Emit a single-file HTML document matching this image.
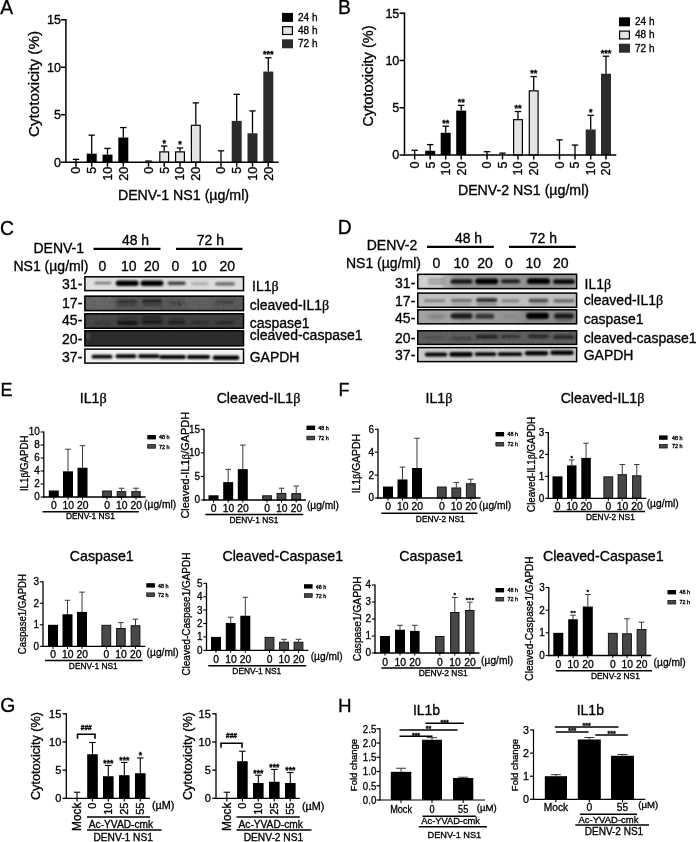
<!DOCTYPE html>
<html><head><meta charset="utf-8"><title>Figure</title>
<style>
html,body{margin:0;padding:0;background:#fff;}
body{width:696px;height:842px;overflow:hidden;}
text{stroke:#000;stroke-width:0.32px;}
svg{display:block;filter:grayscale(1);font-family:"Liberation Sans",sans-serif;}
</style></head><body>
<svg width="696" height="842" viewBox="0 0 696 842">
<rect x="0" y="0" width="696" height="842" fill="#fff"/>
<text x="0.2" y="13.8" font-size="19.3" fill="#000">A</text>
<line x1="76" y1="159.35199999999998" x2="76" y2="162.2" stroke="#000" stroke-width="1.3" stroke-linecap="butt"/>
<line x1="72.8" y1="159.35199999999998" x2="79.2" y2="159.35199999999998" stroke="#000" stroke-width="1.3" stroke-linecap="butt"/>
<line x1="91.7" y1="135.144" x2="91.7" y2="153.65599999999998" stroke="#000" stroke-width="1.3" stroke-linecap="butt"/>
<line x1="88.5" y1="135.144" x2="94.9" y2="135.144" stroke="#000" stroke-width="1.3" stroke-linecap="butt"/>
<rect x="86.7" y="153.65599999999998" width="10.0" height="8.544000000000011" fill="#000"/>
<line x1="107.5" y1="148.43466666666666" x2="107.5" y2="154.60533333333333" stroke="#000" stroke-width="1.3" stroke-linecap="butt"/>
<line x1="104.3" y1="148.43466666666666" x2="110.7" y2="148.43466666666666" stroke="#000" stroke-width="1.3" stroke-linecap="butt"/>
<rect x="102.5" y="154.60533333333333" width="10.0" height="7.5946666666666545" fill="#000"/>
<line x1="123.3" y1="127.54933333333332" x2="123.3" y2="137.5173333333333" stroke="#000" stroke-width="1.3" stroke-linecap="butt"/>
<line x1="120.1" y1="127.54933333333332" x2="126.5" y2="127.54933333333332" stroke="#000" stroke-width="1.3" stroke-linecap="butt"/>
<rect x="118.3" y="137.5173333333333" width="10.0" height="24.682666666666677" fill="#000"/>
<line x1="148.5" y1="161.0608" x2="148.5" y2="162.2" stroke="#000" stroke-width="1.3" stroke-linecap="butt"/>
<line x1="145.3" y1="161.0608" x2="151.7" y2="161.0608" stroke="#000" stroke-width="1.3" stroke-linecap="butt"/>
<line x1="164.2" y1="146.06133333333332" x2="164.2" y2="151.28266666666667" stroke="#000" stroke-width="1.3" stroke-linecap="butt"/>
<line x1="161.0" y1="146.06133333333332" x2="167.39999999999998" y2="146.06133333333332" stroke="#000" stroke-width="1.3" stroke-linecap="butt"/>
<rect x="159.79999999999998" y="151.88266666666667" width="8.8" height="10.317333333333318" fill="#e4e4e4" stroke="#000" stroke-width="1.2"/>
<text x="164.2" y="145.56133333333332" font-size="9" text-anchor="middle" font-weight="bold" fill="#000">*</text>
<line x1="180" y1="147.95999999999998" x2="180" y2="151.28266666666667" stroke="#000" stroke-width="1.3" stroke-linecap="butt"/>
<line x1="176.8" y1="147.95999999999998" x2="183.2" y2="147.95999999999998" stroke="#000" stroke-width="1.3" stroke-linecap="butt"/>
<rect x="175.6" y="151.88266666666667" width="8.8" height="10.317333333333318" fill="#e4e4e4" stroke="#000" stroke-width="1.2"/>
<text x="180" y="147.45999999999998" font-size="9" text-anchor="middle" font-weight="bold" fill="#000">*</text>
<line x1="195.8" y1="102.86666666666666" x2="195.8" y2="124.70133333333332" stroke="#000" stroke-width="1.3" stroke-linecap="butt"/>
<line x1="192.60000000000002" y1="102.86666666666666" x2="199.0" y2="102.86666666666666" stroke="#000" stroke-width="1.3" stroke-linecap="butt"/>
<rect x="191.4" y="125.30133333333332" width="8.8" height="36.898666666666664" fill="#e4e4e4" stroke="#000" stroke-width="1.2"/>
<line x1="221" y1="150.808" x2="221" y2="162.2" stroke="#000" stroke-width="1.3" stroke-linecap="butt"/>
<line x1="217.8" y1="150.808" x2="224.2" y2="150.808" stroke="#000" stroke-width="1.3" stroke-linecap="butt"/>
<line x1="236.7" y1="94.32266666666666" x2="236.7" y2="120.904" stroke="#000" stroke-width="1.3" stroke-linecap="butt"/>
<line x1="233.5" y1="94.32266666666666" x2="239.89999999999998" y2="94.32266666666666" stroke="#000" stroke-width="1.3" stroke-linecap="butt"/>
<rect x="231.7" y="120.904" width="10.0" height="41.29599999999999" fill="#2b2b2b"/>
<line x1="252.5" y1="110.93599999999999" x2="252.5" y2="133.24533333333332" stroke="#000" stroke-width="1.3" stroke-linecap="butt"/>
<line x1="249.3" y1="110.93599999999999" x2="255.7" y2="110.93599999999999" stroke="#000" stroke-width="1.3" stroke-linecap="butt"/>
<rect x="247.5" y="133.24533333333332" width="10.0" height="28.954666666666668" fill="#2b2b2b"/>
<line x1="268.3" y1="57.77333333333334" x2="268.3" y2="71.53866666666666" stroke="#000" stroke-width="1.3" stroke-linecap="butt"/>
<line x1="265.1" y1="57.77333333333334" x2="271.5" y2="57.77333333333334" stroke="#000" stroke-width="1.3" stroke-linecap="butt"/>
<rect x="263.3" y="71.53866666666666" width="10.0" height="90.66133333333333" fill="#2b2b2b"/>
<text x="268.3" y="57.27333333333334" font-size="9" text-anchor="middle" font-weight="bold" fill="#000">***</text>
<line x1="65.9" y1="19.1" x2="65.9" y2="162.89999999999998" stroke="#000" stroke-width="1.5" stroke-linecap="butt"/>
<line x1="65.2" y1="162.2" x2="278.6" y2="162.2" stroke="#000" stroke-width="1.5" stroke-linecap="butt"/>
<line x1="60.900000000000006" y1="162.2" x2="65.9" y2="162.2" stroke="#000" stroke-width="1.5" stroke-linecap="butt"/>
<text x="61" y="166.6" font-size="12.5" text-anchor="end" fill="#000">0</text>
<line x1="60.900000000000006" y1="114.73333333333332" x2="65.9" y2="114.73333333333332" stroke="#000" stroke-width="1.5" stroke-linecap="butt"/>
<text x="61" y="119.13333333333333" font-size="12.5" text-anchor="end" fill="#000">5</text>
<line x1="60.900000000000006" y1="67.26666666666667" x2="65.9" y2="67.26666666666667" stroke="#000" stroke-width="1.5" stroke-linecap="butt"/>
<text x="61" y="71.66666666666667" font-size="12.5" text-anchor="end" fill="#000">10</text>
<line x1="60.900000000000006" y1="19.80000000000001" x2="65.9" y2="19.80000000000001" stroke="#000" stroke-width="1.5" stroke-linecap="butt"/>
<text x="61" y="24.20000000000001" font-size="12.5" text-anchor="end" fill="#000">15</text>
<line x1="76" y1="162.2" x2="76" y2="166.7" stroke="#000" stroke-width="1.5" stroke-linecap="butt"/>
<text x="80.5" y="166.79999999999998" font-size="12.5" text-anchor="end" transform="rotate(-90 80.5 166.79999999999998)" fill="#000">0</text>
<line x1="91.7" y1="162.2" x2="91.7" y2="166.7" stroke="#000" stroke-width="1.5" stroke-linecap="butt"/>
<text x="96.2" y="166.79999999999998" font-size="12.5" text-anchor="end" transform="rotate(-90 96.2 166.79999999999998)" fill="#000">5</text>
<line x1="107.5" y1="162.2" x2="107.5" y2="166.7" stroke="#000" stroke-width="1.5" stroke-linecap="butt"/>
<text x="112.0" y="166.79999999999998" font-size="12.5" text-anchor="end" transform="rotate(-90 112.0 166.79999999999998)" fill="#000">10</text>
<line x1="123.3" y1="162.2" x2="123.3" y2="166.7" stroke="#000" stroke-width="1.5" stroke-linecap="butt"/>
<text x="127.8" y="166.79999999999998" font-size="12.5" text-anchor="end" transform="rotate(-90 127.8 166.79999999999998)" fill="#000">20</text>
<line x1="148.5" y1="162.2" x2="148.5" y2="166.7" stroke="#000" stroke-width="1.5" stroke-linecap="butt"/>
<text x="153.0" y="166.79999999999998" font-size="12.5" text-anchor="end" transform="rotate(-90 153.0 166.79999999999998)" fill="#000">0</text>
<line x1="164.2" y1="162.2" x2="164.2" y2="166.7" stroke="#000" stroke-width="1.5" stroke-linecap="butt"/>
<text x="168.7" y="166.79999999999998" font-size="12.5" text-anchor="end" transform="rotate(-90 168.7 166.79999999999998)" fill="#000">5</text>
<line x1="180" y1="162.2" x2="180" y2="166.7" stroke="#000" stroke-width="1.5" stroke-linecap="butt"/>
<text x="184.5" y="166.79999999999998" font-size="12.5" text-anchor="end" transform="rotate(-90 184.5 166.79999999999998)" fill="#000">10</text>
<line x1="195.8" y1="162.2" x2="195.8" y2="166.7" stroke="#000" stroke-width="1.5" stroke-linecap="butt"/>
<text x="200.3" y="166.79999999999998" font-size="12.5" text-anchor="end" transform="rotate(-90 200.3 166.79999999999998)" fill="#000">20</text>
<line x1="221" y1="162.2" x2="221" y2="166.7" stroke="#000" stroke-width="1.5" stroke-linecap="butt"/>
<text x="225.5" y="166.79999999999998" font-size="12.5" text-anchor="end" transform="rotate(-90 225.5 166.79999999999998)" fill="#000">0</text>
<line x1="236.7" y1="162.2" x2="236.7" y2="166.7" stroke="#000" stroke-width="1.5" stroke-linecap="butt"/>
<text x="241.2" y="166.79999999999998" font-size="12.5" text-anchor="end" transform="rotate(-90 241.2 166.79999999999998)" fill="#000">5</text>
<line x1="252.5" y1="162.2" x2="252.5" y2="166.7" stroke="#000" stroke-width="1.5" stroke-linecap="butt"/>
<text x="257.0" y="166.79999999999998" font-size="12.5" text-anchor="end" transform="rotate(-90 257.0 166.79999999999998)" fill="#000">10</text>
<line x1="268.3" y1="162.2" x2="268.3" y2="166.7" stroke="#000" stroke-width="1.5" stroke-linecap="butt"/>
<text x="272.8" y="166.79999999999998" font-size="12.5" text-anchor="end" transform="rotate(-90 272.8 166.79999999999998)" fill="#000">20</text>
<text x="183.5" y="200" font-size="14.2" text-anchor="middle" fill="#000">DENV-1 NS1 (µg/ml)</text>
<text x="38.6" y="84" font-size="15.3" text-anchor="middle" transform="rotate(-90 38.6 84)" fill="#000">Cytotoxicity (%)</text>
<rect x="282" y="12.9" width="11" height="9" fill="#000"/>
<text x="298" y="20.8" font-size="10" fill="#000" stroke="#000" stroke-width="0.25">24 h</text>
<rect x="282.6" y="26.700000000000003" width="9.8" height="7.8" fill="#e4e4e4" stroke="#000" stroke-width="1.2"/>
<text x="298" y="34.0" font-size="10" fill="#000" stroke="#000" stroke-width="0.25">48 h</text>
<rect x="282" y="39.3" width="11" height="9" fill="#2b2b2b"/>
<text x="298" y="47.199999999999996" font-size="10" fill="#000" stroke="#000" stroke-width="0.25">72 h</text>
<text x="338.1" y="13.6" font-size="19.3" fill="#000">B</text>
<line x1="414.7" y1="150.27333333333334" x2="414.7" y2="155.0" stroke="#000" stroke-width="1.3" stroke-linecap="butt"/>
<line x1="411.5" y1="150.27333333333334" x2="417.9" y2="150.27333333333334" stroke="#000" stroke-width="1.3" stroke-linecap="butt"/>
<line x1="430.2" y1="144.60133333333334" x2="430.2" y2="150.746" stroke="#000" stroke-width="1.3" stroke-linecap="butt"/>
<line x1="427.0" y1="144.60133333333334" x2="433.4" y2="144.60133333333334" stroke="#000" stroke-width="1.3" stroke-linecap="butt"/>
<rect x="425.2" y="150.746" width="10.0" height="4.253999999999991" fill="#000"/>
<line x1="445.7" y1="126.16733333333333" x2="445.7" y2="132.78466666666665" stroke="#000" stroke-width="1.3" stroke-linecap="butt"/>
<line x1="442.5" y1="126.16733333333333" x2="448.9" y2="126.16733333333333" stroke="#000" stroke-width="1.3" stroke-linecap="butt"/>
<rect x="440.7" y="132.78466666666665" width="10.0" height="22.215333333333348" fill="#000"/>
<text x="445.7" y="125.66733333333333" font-size="9" text-anchor="middle" font-weight="bold" fill="#000">**</text>
<line x1="461.2" y1="105.36999999999999" x2="461.2" y2="110.56933333333333" stroke="#000" stroke-width="1.3" stroke-linecap="butt"/>
<line x1="458.0" y1="105.36999999999999" x2="464.4" y2="105.36999999999999" stroke="#000" stroke-width="1.3" stroke-linecap="butt"/>
<rect x="456.2" y="110.56933333333333" width="10.0" height="44.43066666666667" fill="#000"/>
<text x="461.2" y="104.86999999999999" font-size="9" text-anchor="middle" font-weight="bold" fill="#000">**</text>
<line x1="487" y1="151.69133333333335" x2="487" y2="155.0" stroke="#000" stroke-width="1.3" stroke-linecap="butt"/>
<line x1="483.8" y1="151.69133333333335" x2="490.2" y2="151.69133333333335" stroke="#000" stroke-width="1.3" stroke-linecap="butt"/>
<line x1="502.5" y1="153.10933333333332" x2="502.5" y2="155.0" stroke="#000" stroke-width="1.3" stroke-linecap="butt"/>
<line x1="499.3" y1="153.10933333333332" x2="505.7" y2="153.10933333333332" stroke="#000" stroke-width="1.3" stroke-linecap="butt"/>
<line x1="518" y1="111.51466666666667" x2="518" y2="119.07733333333333" stroke="#000" stroke-width="1.3" stroke-linecap="butt"/>
<line x1="514.8" y1="111.51466666666667" x2="521.2" y2="111.51466666666667" stroke="#000" stroke-width="1.3" stroke-linecap="butt"/>
<rect x="513.6" y="119.67733333333332" width="8.8" height="35.32266666666667" fill="#e4e4e4" stroke="#000" stroke-width="1.2"/>
<text x="518" y="111.01466666666667" font-size="9" text-anchor="middle" font-weight="bold" fill="#000">**</text>
<line x1="533.7" y1="76.53733333333331" x2="533.7" y2="90.24466666666666" stroke="#000" stroke-width="1.3" stroke-linecap="butt"/>
<line x1="530.5" y1="76.53733333333331" x2="536.9000000000001" y2="76.53733333333331" stroke="#000" stroke-width="1.3" stroke-linecap="butt"/>
<rect x="529.3000000000001" y="90.84466666666665" width="8.8" height="64.15533333333335" fill="#e4e4e4" stroke="#000" stroke-width="1.2"/>
<text x="533.7" y="76.03733333333331" font-size="9" text-anchor="middle" font-weight="bold" fill="#000">**</text>
<line x1="559.5" y1="139.87466666666666" x2="559.5" y2="155.0" stroke="#000" stroke-width="1.3" stroke-linecap="butt"/>
<line x1="556.3" y1="139.87466666666666" x2="562.7" y2="139.87466666666666" stroke="#000" stroke-width="1.3" stroke-linecap="butt"/>
<line x1="575" y1="145.074" x2="575" y2="155.0" stroke="#000" stroke-width="1.3" stroke-linecap="butt"/>
<line x1="571.8" y1="145.074" x2="578.2" y2="145.074" stroke="#000" stroke-width="1.3" stroke-linecap="butt"/>
<line x1="590.7" y1="115.29599999999999" x2="590.7" y2="129.476" stroke="#000" stroke-width="1.3" stroke-linecap="butt"/>
<line x1="587.5" y1="115.29599999999999" x2="593.9000000000001" y2="115.29599999999999" stroke="#000" stroke-width="1.3" stroke-linecap="butt"/>
<rect x="585.7" y="129.476" width="10.0" height="25.524" fill="#2b2b2b"/>
<text x="590.7" y="114.79599999999999" font-size="9" text-anchor="middle" font-weight="bold" fill="#000">*</text>
<line x1="606" y1="56.212666666666664" x2="606" y2="73.70133333333332" stroke="#000" stroke-width="1.3" stroke-linecap="butt"/>
<line x1="602.8" y1="56.212666666666664" x2="609.2" y2="56.212666666666664" stroke="#000" stroke-width="1.3" stroke-linecap="butt"/>
<rect x="601.0" y="73.70133333333332" width="10.0" height="81.29866666666668" fill="#2b2b2b"/>
<text x="606" y="55.712666666666664" font-size="9" text-anchor="middle" font-weight="bold" fill="#000">***</text>
<line x1="404.5" y1="12.5" x2="404.5" y2="155.7" stroke="#000" stroke-width="1.5" stroke-linecap="butt"/>
<line x1="403.8" y1="155.0" x2="616.3" y2="155.0" stroke="#000" stroke-width="1.5" stroke-linecap="butt"/>
<line x1="399.5" y1="155.0" x2="404.5" y2="155.0" stroke="#000" stroke-width="1.5" stroke-linecap="butt"/>
<text x="399.3" y="159.4" font-size="12.5" text-anchor="end" fill="#000">0</text>
<line x1="399.5" y1="107.73333333333332" x2="404.5" y2="107.73333333333332" stroke="#000" stroke-width="1.5" stroke-linecap="butt"/>
<text x="399.3" y="112.13333333333333" font-size="12.5" text-anchor="end" fill="#000">5</text>
<line x1="399.5" y1="60.466666666666654" x2="404.5" y2="60.466666666666654" stroke="#000" stroke-width="1.5" stroke-linecap="butt"/>
<text x="399.3" y="64.86666666666666" font-size="12.5" text-anchor="end" fill="#000">10</text>
<line x1="399.5" y1="13.199999999999989" x2="404.5" y2="13.199999999999989" stroke="#000" stroke-width="1.5" stroke-linecap="butt"/>
<text x="399.3" y="17.599999999999987" font-size="12.5" text-anchor="end" fill="#000">15</text>
<line x1="414.7" y1="155.0" x2="414.7" y2="159.5" stroke="#000" stroke-width="1.5" stroke-linecap="butt"/>
<text x="419.2" y="161.6" font-size="12.5" text-anchor="end" transform="rotate(-90 419.2 161.6)" fill="#000">0</text>
<line x1="430.2" y1="155.0" x2="430.2" y2="159.5" stroke="#000" stroke-width="1.5" stroke-linecap="butt"/>
<text x="434.7" y="161.6" font-size="12.5" text-anchor="end" transform="rotate(-90 434.7 161.6)" fill="#000">5</text>
<line x1="445.7" y1="155.0" x2="445.7" y2="159.5" stroke="#000" stroke-width="1.5" stroke-linecap="butt"/>
<text x="450.2" y="161.6" font-size="12.5" text-anchor="end" transform="rotate(-90 450.2 161.6)" fill="#000">10</text>
<line x1="461.2" y1="155.0" x2="461.2" y2="159.5" stroke="#000" stroke-width="1.5" stroke-linecap="butt"/>
<text x="465.7" y="161.6" font-size="12.5" text-anchor="end" transform="rotate(-90 465.7 161.6)" fill="#000">20</text>
<line x1="487" y1="155.0" x2="487" y2="159.5" stroke="#000" stroke-width="1.5" stroke-linecap="butt"/>
<text x="491.5" y="161.6" font-size="12.5" text-anchor="end" transform="rotate(-90 491.5 161.6)" fill="#000">0</text>
<line x1="502.5" y1="155.0" x2="502.5" y2="159.5" stroke="#000" stroke-width="1.5" stroke-linecap="butt"/>
<text x="507.0" y="161.6" font-size="12.5" text-anchor="end" transform="rotate(-90 507.0 161.6)" fill="#000">5</text>
<line x1="518" y1="155.0" x2="518" y2="159.5" stroke="#000" stroke-width="1.5" stroke-linecap="butt"/>
<text x="522.5" y="161.6" font-size="12.5" text-anchor="end" transform="rotate(-90 522.5 161.6)" fill="#000">10</text>
<line x1="533.7" y1="155.0" x2="533.7" y2="159.5" stroke="#000" stroke-width="1.5" stroke-linecap="butt"/>
<text x="538.2" y="161.6" font-size="12.5" text-anchor="end" transform="rotate(-90 538.2 161.6)" fill="#000">20</text>
<line x1="559.5" y1="155.0" x2="559.5" y2="159.5" stroke="#000" stroke-width="1.5" stroke-linecap="butt"/>
<text x="564.0" y="161.6" font-size="12.5" text-anchor="end" transform="rotate(-90 564.0 161.6)" fill="#000">0</text>
<line x1="575" y1="155.0" x2="575" y2="159.5" stroke="#000" stroke-width="1.5" stroke-linecap="butt"/>
<text x="579.5" y="161.6" font-size="12.5" text-anchor="end" transform="rotate(-90 579.5 161.6)" fill="#000">5</text>
<line x1="590.7" y1="155.0" x2="590.7" y2="159.5" stroke="#000" stroke-width="1.5" stroke-linecap="butt"/>
<text x="595.2" y="161.6" font-size="12.5" text-anchor="end" transform="rotate(-90 595.2 161.6)" fill="#000">10</text>
<line x1="606" y1="155.0" x2="606" y2="159.5" stroke="#000" stroke-width="1.5" stroke-linecap="butt"/>
<text x="610.5" y="161.6" font-size="12.5" text-anchor="end" transform="rotate(-90 610.5 161.6)" fill="#000">20</text>
<text x="523.5" y="195" font-size="14.2" text-anchor="middle" fill="#000">DENV-2 NS1 (µg/ml)</text>
<text x="373.2" y="76" font-size="14.55" text-anchor="middle" transform="rotate(-90 373.2 76)" fill="#000">Cytotoxicity (%)</text>
<rect x="619" y="17.3" width="11" height="9" fill="#000"/>
<text x="635" y="25.200000000000003" font-size="10" fill="#000" stroke="#000" stroke-width="0.25">24 h</text>
<rect x="619.6" y="31.1" width="9.8" height="7.8" fill="#e4e4e4" stroke="#000" stroke-width="1.2"/>
<text x="635" y="38.4" font-size="10" fill="#000" stroke="#000" stroke-width="0.25">48 h</text>
<rect x="619" y="43.7" width="11" height="9" fill="#2b2b2b"/>
<text x="635" y="51.6" font-size="10" fill="#000" stroke="#000" stroke-width="0.25">72 h</text>
<defs><filter id="bl" x="-20%" y="-100%" width="140%" height="300%"><feGaussianBlur stdDeviation="1.1 0.8"/></filter><filter id="bl2" x="-20%" y="-100%" width="140%" height="300%"><feGaussianBlur stdDeviation="2 1.4"/></filter><filter id="noise" x="0" y="0" width="100%" height="100%"><feTurbulence type="fractalNoise" baseFrequency="0.35 0.5" numOctaves="2" seed="3" result="n"/><feColorMatrix in="n" type="matrix" values="0 0 0 0 0  0 0 0 0 0  0 0 0 0 0  0.9 0 0 0 -0.35"/></filter></defs>
<text x="0.1" y="234.7" font-size="19.3" fill="#000">C</text>
<text x="33.5" y="252.5" font-size="14" fill="#000">DENV-1</text>
<text x="13.5" y="270.5" font-size="14" fill="#000">NS1 (µg/ml)</text>
<text x="135.5" y="245" font-size="14" text-anchor="middle" fill="#000">48 h</text>
<text x="210.3" y="245" font-size="14" text-anchor="middle" fill="#000">72 h</text>
<line x1="93.5" y1="248.8" x2="160.5" y2="248.8" stroke="#000" stroke-width="2.2" stroke-linecap="butt"/>
<line x1="176" y1="248.8" x2="242.5" y2="248.8" stroke="#000" stroke-width="2.2" stroke-linecap="butt"/>
<text x="102.5" y="270.5" font-size="14" text-anchor="middle" fill="#000">0</text>
<text x="128.7" y="270.5" font-size="14" text-anchor="middle" fill="#000">10</text>
<text x="151.7" y="270.5" font-size="14" text-anchor="middle" fill="#000">20</text>
<text x="175.5" y="270.5" font-size="14" text-anchor="middle" fill="#000">0</text>
<text x="199" y="270.5" font-size="14" text-anchor="middle" fill="#000">10</text>
<text x="227.3" y="270.5" font-size="14" text-anchor="middle" fill="#000">20</text>
<clipPath id="c1"><rect x="84.3" y="276.2" width="159.8" height="15"/></clipPath>
<g clip-path="url(#c1)">
<rect x="84.3" y="276.2" width="159.8" height="15" fill="#dfdfdf"/>
<rect x="150" y="276.2" width="60" height="15" fill="#d8d8d8" opacity="0.5" filter="url(#bl2)"/>
<rect x="94.50" y="281.80" width="17" height="2.4" rx="1.20" fill="#444" opacity="0.7" filter="url(#bl)"/>
<rect x="115.70" y="280.50" width="23" height="5.4" rx="2.70" fill="#000" opacity="1" filter="url(#bl)"/>
<rect x="140.50" y="280.50" width="23" height="5.4" rx="2.70" fill="#000" opacity="1" filter="url(#bl)"/>
<rect x="167.70" y="281.50" width="18" height="3.4" rx="1.70" fill="#222" opacity="0.85" filter="url(#bl)"/>
<rect x="191.20" y="282.50" width="17" height="2.2" rx="1.10" fill="#555" opacity="0.45" filter="url(#bl)"/>
<rect x="215.00" y="282.20" width="20" height="3.2" rx="1.60" fill="#333" opacity="0.7" filter="url(#bl)"/>
</g>
<rect x="84.89999999999999" y="276.8" width="158.60000000000002" height="13.8" fill="none" stroke="#000" stroke-width="1.5"/>
<clipPath id="c2"><rect x="84.3" y="295.6" width="159.8" height="15.6"/></clipPath>
<g clip-path="url(#c2)">
<rect x="84.3" y="295.6" width="159.8" height="15.6" fill="#5c5c5c"/>
<rect x="84" y="295.6" width="30" height="15.6" fill="#777" opacity="0.5" filter="url(#bl2)"/>
<rect x="186" y="295.6" width="26" height="15.6" fill="#6a6a6a" opacity="0.5" filter="url(#bl2)"/>
<rect x="117.20" y="300.00" width="20" height="3" rx="1.50" fill="#222" opacity="0.7" filter="url(#bl)"/>
<rect x="117.20" y="303.75" width="20" height="2.5" rx="1.25" fill="#2a2a2a" opacity="0.5" filter="url(#bl)"/>
<rect x="142.00" y="299.25" width="20" height="3.5" rx="1.75" fill="#1a1a1a" opacity="0.8" filter="url(#bl)"/>
<rect x="142.00" y="303.55" width="20" height="2.5" rx="1.25" fill="#2a2a2a" opacity="0.55" filter="url(#bl)"/>
<rect x="168.70" y="300.50" width="16" height="3" rx="1.50" fill="#3a3a3a" opacity="0.4" filter="url(#bl)"/>
<rect x="216.00" y="300.00" width="18" height="4" rx="2.00" fill="#333" opacity="0.45" filter="url(#bl)"/>
<rect x="177.80" y="303.20" width="2.4" height="2" rx="1.00" fill="#000" opacity="0.9" filter="url(#bl)"/>
<rect x="173.50" y="303.00" width="2" height="2" rx="1.00" fill="#000" opacity="0.7" filter="url(#bl)"/>
<rect x="84.3" y="295.6" width="159.8" height="15.6" filter="url(#noise)" opacity="0.35"/>
</g>
<rect x="84.89999999999999" y="296.20000000000005" width="158.60000000000002" height="14.4" fill="none" stroke="#000" stroke-width="1.5"/>
<clipPath id="c3"><rect x="84.3" y="313.2" width="159.8" height="15.6"/></clipPath>
<g clip-path="url(#c3)">
<rect x="84.3" y="313.2" width="159.8" height="15.6" fill="#434343"/>
<rect x="84" y="313.2" width="40" height="15.6" fill="#555" opacity="0.4" filter="url(#bl2)"/>
<rect x="95.00" y="322.00" width="16" height="3" rx="1.50" fill="#2a2a2a" opacity="0.5" filter="url(#bl)"/>
<rect x="116.70" y="321.00" width="21" height="3.6" rx="1.80" fill="#0c0c0c" opacity="0.9" filter="url(#bl)"/>
<rect x="117.70" y="316.75" width="19" height="2.5" rx="1.25" fill="#222" opacity="0.5" filter="url(#bl)"/>
<rect x="141.50" y="320.30" width="21" height="3.4" rx="1.70" fill="#101010" opacity="0.85" filter="url(#bl)"/>
<rect x="142.00" y="316.10" width="20" height="2.8" rx="1.40" fill="#181818" opacity="0.6" filter="url(#bl)"/>
<rect x="167.70" y="320.80" width="18" height="3" rx="1.50" fill="#151515" opacity="0.75" filter="url(#bl)"/>
<rect x="169.70" y="316.70" width="14" height="2.2" rx="1.10" fill="#222" opacity="0.4" filter="url(#bl)"/>
<rect x="191.20" y="321.25" width="17" height="2.5" rx="1.25" fill="#1a1a1a" opacity="0.65" filter="url(#bl)"/>
<rect x="216.00" y="321.10" width="18" height="2.8" rx="1.40" fill="#1a1a1a" opacity="0.65" filter="url(#bl)"/>
<rect x="84.3" y="313.2" width="159.8" height="15.6" filter="url(#noise)" opacity="0.35"/>
</g>
<rect x="84.89999999999999" y="313.8" width="158.60000000000002" height="14.4" fill="none" stroke="#000" stroke-width="1.5"/>
<clipPath id="c4"><rect x="84.3" y="330.2" width="159.8" height="16.2"/></clipPath>
<g clip-path="url(#c4)">
<rect x="84.3" y="330.2" width="159.8" height="16.2" fill="#2e2e2e"/>
<rect x="86.00" y="332.00" width="4" height="8" rx="4.00" fill="#666" opacity="0.5" filter="url(#bl)"/>
<rect x="84.3" y="330.2" width="159.8" height="16.2" filter="url(#noise)" opacity="0.3"/>
</g>
<rect x="84.89999999999999" y="330.8" width="158.60000000000002" height="15.0" fill="none" stroke="#000" stroke-width="1.5"/>
<clipPath id="c5"><rect x="84.3" y="348.5" width="159.8" height="15.2"/></clipPath>
<g clip-path="url(#c5)">
<rect x="84.3" y="348.5" width="159.8" height="15.2" fill="#f2f2f2"/>
<rect x="91.50" y="354.80" width="21" height="3.8" rx="1.90" fill="#000" opacity="1" filter="url(#bl)"/>
<rect x="115.50" y="354.20" width="21" height="4.0" rx="2.00" fill="#000" opacity="1" filter="url(#bl)"/>
<rect x="138.05" y="354.30" width="21.5" height="4.0" rx="2.00" fill="#000" opacity="1" filter="url(#bl)"/>
<rect x="159.00" y="354.90" width="27" height="4.0" rx="2.00" fill="#000" opacity="1" filter="url(#bl)"/>
<rect x="186.75" y="354.90" width="23.5" height="4.0" rx="2.00" fill="#000" opacity="1" filter="url(#bl)"/>
<rect x="212.50" y="355.60" width="27" height="4.4" rx="2.20" fill="#000" opacity="1" filter="url(#bl)"/>
</g>
<rect x="84.89999999999999" y="349.1" width="158.60000000000002" height="14.0" fill="none" stroke="#000" stroke-width="1.5"/>
<text x="82.3" y="288.8" font-size="14" text-anchor="end" fill="#000">31-</text>
<text x="82.3" y="307.5" font-size="14" text-anchor="end" fill="#000">17-</text>
<text x="82.3" y="325" font-size="14" text-anchor="end" fill="#000">45-</text>
<text x="82.3" y="343.5" font-size="14" text-anchor="end" fill="#000">20-</text>
<text x="82.3" y="361.5" font-size="14" text-anchor="end" fill="#000">37-</text>
<text x="252" y="290.5" font-size="14" fill="#000">IL1<tspan font-family="Liberation Serif">β</tspan></text>
<text x="249.7" y="310" font-size="14" fill="#000">cleaved-IL1<tspan font-family="Liberation Serif">β</tspan></text>
<text x="249.7" y="328" font-size="14" fill="#000">caspase1</text>
<text x="249.7" y="339.5" font-size="14" fill="#000">cleaved-caspase1</text>
<text x="249.7" y="361.5" font-size="14" fill="#000">GAPDH</text>
<text x="337.8" y="233.7" font-size="19.3" fill="#000">D</text>
<text x="366.7" y="250" font-size="14" fill="#000">DENV-2</text>
<text x="346" y="268" font-size="14" fill="#000">NS1 (µg/ml)</text>
<text x="468.5" y="242.5" font-size="14" text-anchor="middle" fill="#000">48 h</text>
<text x="543.3" y="242.5" font-size="14" text-anchor="middle" fill="#000">72 h</text>
<line x1="427" y1="246.8" x2="493.8" y2="246.8" stroke="#000" stroke-width="2.2" stroke-linecap="butt"/>
<line x1="509" y1="246.8" x2="575.8" y2="246.8" stroke="#000" stroke-width="2.2" stroke-linecap="butt"/>
<text x="436.3" y="268" font-size="14" text-anchor="middle" fill="#000">0</text>
<text x="461.3" y="268" font-size="14" text-anchor="middle" fill="#000">10</text>
<text x="485" y="268" font-size="14" text-anchor="middle" fill="#000">20</text>
<text x="509" y="268" font-size="14" text-anchor="middle" fill="#000">0</text>
<text x="533.3" y="268" font-size="14" text-anchor="middle" fill="#000">10</text>
<text x="560.8" y="268" font-size="14" text-anchor="middle" fill="#000">20</text>
<clipPath id="c6"><rect x="417.2" y="273.7" width="160" height="15.5"/></clipPath>
<g clip-path="url(#c6)">
<rect x="417.2" y="273.7" width="160" height="15.5" fill="#ababab"/>
<rect x="417" y="273.7" width="26" height="15.5" fill="#e0e0e0" opacity="0.7" filter="url(#bl2)"/>
<rect x="452" y="273.7" width="122" height="15.5" fill="#808080" opacity="0.55" filter="url(#bl2)"/>
<rect x="428.00" y="278.40" width="17" height="2.2" rx="1.10" fill="#555" opacity="0.55" filter="url(#bl)"/>
<rect x="428.00" y="282.10" width="17" height="2.2" rx="1.10" fill="#555" opacity="0.5" filter="url(#bl)"/>
<rect x="450.50" y="279.20" width="22" height="4.6" rx="2.30" fill="#0a0a0a" opacity="0.95" filter="url(#bl)"/>
<rect x="475.20" y="278.40" width="23" height="5.8" rx="2.90" fill="#000" opacity="1" filter="url(#bl)"/>
<rect x="501.00" y="279.20" width="19" height="4" rx="2.00" fill="#111" opacity="0.9" filter="url(#bl)"/>
<rect x="527.00" y="278.30" width="23" height="5.8" rx="2.90" fill="#000" opacity="1" filter="url(#bl)"/>
<rect x="553.00" y="279.30" width="22" height="4.6" rx="2.30" fill="#050505" opacity="0.95" filter="url(#bl)"/>
</g>
<rect x="417.8" y="274.3" width="158.8" height="14.3" fill="none" stroke="#000" stroke-width="1.5"/>
<clipPath id="c7"><rect x="417.2" y="292.5" width="160" height="15.4"/></clipPath>
<g clip-path="url(#c7)">
<rect x="417.2" y="292.5" width="160" height="15.4" fill="#c6c6c6"/>
<rect x="417" y="292.5" width="160" height="15.4" fill="#aaa" opacity="0.25" filter="url(#bl2)"/>
<rect x="424.00" y="299.50" width="21" height="2.6" rx="1.30" fill="#555" opacity="0.65" filter="url(#bl)"/>
<rect x="451.00" y="298.90" width="21" height="3.2" rx="1.60" fill="#444" opacity="0.7" filter="url(#bl)"/>
<rect x="452.50" y="303.50" width="18" height="2" rx="1.00" fill="#777" opacity="0.5" filter="url(#bl)"/>
<rect x="476.20" y="298.30" width="21" height="3.8" rx="1.90" fill="#151515" opacity="0.9" filter="url(#bl)"/>
<rect x="476.70" y="303.60" width="20" height="2" rx="1.00" fill="#555" opacity="0.6" filter="url(#bl)"/>
<rect x="501.50" y="299.40" width="18" height="2.8" rx="1.40" fill="#555" opacity="0.65" filter="url(#bl)"/>
<rect x="528.50" y="298.80" width="20" height="3.6" rx="1.80" fill="#333" opacity="0.8" filter="url(#bl)"/>
<rect x="530.50" y="303.80" width="16" height="2" rx="1.00" fill="#777" opacity="0.4" filter="url(#bl)"/>
<rect x="553.50" y="299.20" width="21" height="3.2" rx="1.60" fill="#444" opacity="0.75" filter="url(#bl)"/>
</g>
<rect x="417.8" y="293.1" width="158.8" height="14.200000000000001" fill="none" stroke="#000" stroke-width="1.5"/>
<clipPath id="c8"><rect x="417.2" y="309.2" width="160" height="15.2"/></clipPath>
<g clip-path="url(#c8)">
<rect x="417.2" y="309.2" width="160" height="15.2" fill="#969696"/>
<rect x="417" y="309.2" width="40" height="15.2" fill="#b0b0b0" opacity="0.5" filter="url(#bl2)"/>
<rect x="520" y="309.2" width="60" height="15.2" fill="#777" opacity="0.45" filter="url(#bl2)"/>
<rect x="427.50" y="314.00" width="18" height="5" rx="2.50" fill="#666" opacity="0.5" filter="url(#bl2)"/>
<rect x="450.50" y="313.30" width="22" height="5.4" rx="2.70" fill="#0c0c0c" opacity="0.9" filter="url(#bl)"/>
<rect x="475.20" y="313.70" width="19" height="5" rx="2.50" fill="#1a1a1a" opacity="0.8" filter="url(#bl)"/>
<rect x="502.50" y="314.00" width="16" height="5" rx="2.50" fill="#777" opacity="0.4" filter="url(#bl2)"/>
<rect x="526.00" y="312.70" width="23" height="6.2" rx="3.10" fill="#000" opacity="1" filter="url(#bl)"/>
<rect x="554.00" y="313.20" width="20" height="5.6" rx="2.80" fill="#111" opacity="0.9" filter="url(#bl)"/>
<rect x="556.00" y="319.25" width="16" height="2.5" rx="1.25" fill="#444" opacity="0.5" filter="url(#bl)"/>
</g>
<rect x="417.8" y="309.8" width="158.8" height="14.0" fill="none" stroke="#000" stroke-width="1.5"/>
<clipPath id="c9"><rect x="417.2" y="330.2" width="160" height="14.8"/></clipPath>
<g clip-path="url(#c9)">
<rect x="417.2" y="330.2" width="160" height="14.8" fill="#686868"/>
<rect x="417" y="330.2" width="160" height="14.8" fill="#555" opacity="0.3" filter="url(#bl2)"/>
<rect x="424.50" y="336.00" width="20" height="3" rx="1.50" fill="#444" opacity="0.5" filter="url(#bl)"/>
<rect x="451.50" y="336.80" width="20" height="3.4" rx="1.70" fill="#333" opacity="0.65" filter="url(#bl)"/>
<rect x="475.70" y="334.80" width="22" height="4" rx="2.00" fill="#1a1a1a" opacity="0.85" filter="url(#bl)"/>
<rect x="500.50" y="334.90" width="20" height="3.4" rx="1.70" fill="#262626" opacity="0.75" filter="url(#bl)"/>
<rect x="528.00" y="334.60" width="21" height="3.6" rx="1.80" fill="#1e1e1e" opacity="0.8" filter="url(#bl)"/>
<rect x="553.50" y="335.10" width="21" height="3.8" rx="1.90" fill="#1e1e1e" opacity="0.8" filter="url(#bl)"/>
<rect x="417.2" y="330.2" width="160" height="14.8" filter="url(#noise)" opacity="0.3"/>
</g>
<rect x="417.8" y="330.8" width="158.8" height="13.600000000000001" fill="none" stroke="#000" stroke-width="1.5"/>
<clipPath id="c10"><rect x="417.2" y="347" width="160" height="15.2"/></clipPath>
<g clip-path="url(#c10)">
<rect x="417.2" y="347" width="160" height="15.2" fill="#d4d4d4"/>
<rect x="417" y="347" width="160" height="15.2" fill="#bbb" opacity="0.3" filter="url(#bl2)"/>
<rect x="424.75" y="352.60" width="22.5" height="4.0" rx="2.00" fill="#000" opacity="1" filter="url(#bl)"/>
<rect x="449.25" y="352.00" width="23.5" height="4.8" rx="2.40" fill="#000" opacity="1" filter="url(#bl)"/>
<rect x="474.75" y="352.30" width="21.5" height="3.8" rx="1.90" fill="#000" opacity="1" filter="url(#bl)"/>
<rect x="497.75" y="352.30" width="24.5" height="3.8" rx="1.90" fill="#000" opacity="1" filter="url(#bl)"/>
<rect x="524.75" y="350.90" width="23.5" height="4.6" rx="2.30" fill="#000" opacity="1" filter="url(#bl)"/>
<rect x="550.25" y="350.60" width="23.5" height="4.4" rx="2.20" fill="#000" opacity="1" filter="url(#bl)"/>
</g>
<rect x="417.8" y="347.6" width="158.8" height="14.0" fill="none" stroke="#000" stroke-width="1.5"/>
<text x="415.3" y="287.5" font-size="14" text-anchor="end" fill="#000">31-</text>
<text x="415.3" y="306" font-size="14" text-anchor="end" fill="#000">17-</text>
<text x="415.3" y="323" font-size="14" text-anchor="end" fill="#000">45-</text>
<text x="415.3" y="342.5" font-size="14" text-anchor="end" fill="#000">20-</text>
<text x="415.3" y="360" font-size="14" text-anchor="end" fill="#000">37-</text>
<text x="584.5" y="289.3" font-size="14" fill="#000">IL1<tspan font-family="Liberation Serif">β</tspan></text>
<text x="583.7" y="304.5" font-size="14" fill="#000">cleaved-IL1<tspan font-family="Liberation Serif">β</tspan></text>
<text x="583.7" y="323.8" font-size="14" fill="#000">caspase1</text>
<text x="583.7" y="342.5" font-size="14" fill="#000">cleaved-caspase1</text>
<text x="583.7" y="360" font-size="14" fill="#000">GAPDH</text>
<text x="0.6" y="396.3" font-size="18" fill="#000">E</text>
<text x="338.6" y="396" font-size="18" fill="#000">F</text>
<text x="93.2" y="402.5" font-size="14.2" text-anchor="middle" fill="#000">IL1<tspan font-family="Liberation Serif">β</tspan></text>
<rect x="48.8" y="490.5" width="10.0" height="6.5" fill="#000"/>
<line x1="68.0" y1="449.225" x2="68.0" y2="471.325" stroke="#3a3a3a" stroke-width="1.0" stroke-linecap="butt"/>
<line x1="65.2" y1="449.225" x2="70.8" y2="449.225" stroke="#3a3a3a" stroke-width="1.0" stroke-linecap="butt"/>
<rect x="63" y="471.325" width="10" height="25.67500000000001" fill="#000"/>
<line x1="82.5" y1="445.65" x2="82.5" y2="467.75" stroke="#3a3a3a" stroke-width="1.0" stroke-linecap="butt"/>
<line x1="79.7" y1="445.65" x2="85.3" y2="445.65" stroke="#3a3a3a" stroke-width="1.0" stroke-linecap="butt"/>
<rect x="77.5" y="467.75" width="10.0" height="29.25" fill="#000"/>
<rect x="102.6" y="491.0" width="8.8" height="6.0" fill="#484848" stroke="#141414" stroke-width="1.0"/>
<line x1="121.5" y1="488.225" x2="121.5" y2="491.15" stroke="#3a3a3a" stroke-width="1.0" stroke-linecap="butt"/>
<line x1="118.7" y1="488.225" x2="124.3" y2="488.225" stroke="#3a3a3a" stroke-width="1.0" stroke-linecap="butt"/>
<rect x="117.19999999999999" y="491.65" width="8.600000000000012" height="5.350000000000023" fill="#484848" stroke="#141414" stroke-width="1.0"/>
<line x1="136.0" y1="488.225" x2="136.0" y2="491.15" stroke="#3a3a3a" stroke-width="1.0" stroke-linecap="butt"/>
<line x1="133.2" y1="488.225" x2="138.8" y2="488.225" stroke="#3a3a3a" stroke-width="1.0" stroke-linecap="butt"/>
<rect x="131.79999999999998" y="491.65" width="8.400000000000023" height="5.350000000000023" fill="#484848" stroke="#141414" stroke-width="1.0"/>
<line x1="43.8" y1="431.5" x2="43.8" y2="497.65" stroke="#000" stroke-width="1.3" stroke-linecap="butt"/>
<line x1="43.15" y1="497" x2="145.60000000000002" y2="497" stroke="#000" stroke-width="1.3" stroke-linecap="butt"/>
<line x1="40.599999999999994" y1="497.0" x2="43.8" y2="497.0" stroke="#000" stroke-width="1.1" stroke-linecap="butt"/>
<text transform="translate(39.9 500.4) scale(0.9300 1)" font-size="10.7" text-anchor="end" fill="#000">0</text>
<line x1="40.599999999999994" y1="484.0" x2="43.8" y2="484.0" stroke="#000" stroke-width="1.1" stroke-linecap="butt"/>
<text transform="translate(39.9 487.4) scale(0.9300 1)" font-size="10.7" text-anchor="end" fill="#000">2</text>
<line x1="40.599999999999994" y1="471.0" x2="43.8" y2="471.0" stroke="#000" stroke-width="1.1" stroke-linecap="butt"/>
<text transform="translate(39.9 474.4) scale(0.9300 1)" font-size="10.7" text-anchor="end" fill="#000">4</text>
<line x1="40.599999999999994" y1="458.0" x2="43.8" y2="458.0" stroke="#000" stroke-width="1.1" stroke-linecap="butt"/>
<text transform="translate(39.9 461.4) scale(0.9300 1)" font-size="10.7" text-anchor="end" fill="#000">6</text>
<line x1="40.599999999999994" y1="445.0" x2="43.8" y2="445.0" stroke="#000" stroke-width="1.1" stroke-linecap="butt"/>
<text transform="translate(39.9 448.4) scale(0.9300 1)" font-size="10.7" text-anchor="end" fill="#000">8</text>
<line x1="40.599999999999994" y1="432.0" x2="43.8" y2="432.0" stroke="#000" stroke-width="1.1" stroke-linecap="butt"/>
<text transform="translate(39.9 435.4) scale(0.9300 1)" font-size="10.7" text-anchor="end" fill="#000">10</text>
<line x1="53.8" y1="497" x2="53.8" y2="499.6" stroke="#000" stroke-width="1.0" stroke-linecap="butt"/>
<text transform="translate(54.0 508.8) scale(0.9400 1)" font-size="11" text-anchor="middle" fill="#000">0</text>
<line x1="68.0" y1="497" x2="68.0" y2="499.6" stroke="#000" stroke-width="1.0" stroke-linecap="butt"/>
<text transform="translate(68.2 508.8) scale(0.9400 1)" font-size="11" text-anchor="middle" fill="#000">10</text>
<line x1="82.5" y1="497" x2="82.5" y2="499.6" stroke="#000" stroke-width="1.0" stroke-linecap="butt"/>
<text transform="translate(82.7 508.8) scale(0.9400 1)" font-size="11" text-anchor="middle" fill="#000">20</text>
<line x1="107.0" y1="497" x2="107.0" y2="499.6" stroke="#000" stroke-width="1.0" stroke-linecap="butt"/>
<text transform="translate(107.2 508.8) scale(0.9400 1)" font-size="11" text-anchor="middle" fill="#000">0</text>
<line x1="121.5" y1="497" x2="121.5" y2="499.6" stroke="#000" stroke-width="1.0" stroke-linecap="butt"/>
<text transform="translate(121.7 508.8) scale(0.9400 1)" font-size="11" text-anchor="middle" fill="#000">10</text>
<line x1="136.0" y1="497" x2="136.0" y2="499.6" stroke="#000" stroke-width="1.0" stroke-linecap="butt"/>
<text transform="translate(136.2 508.8) scale(0.9400 1)" font-size="11" text-anchor="middle" fill="#000">20</text>
<text transform="translate(144.1 507.5) scale(0.9300 1)" font-size="11" fill="#000">(µg/ml)</text>
<line x1="42.5" y1="511.8" x2="138.8" y2="511.8" stroke="#000" stroke-width="1.5" stroke-linecap="butt"/>
<text x="90.4" y="519.3" font-size="8.4" text-anchor="middle" fill="#000">DENV-1 NS1</text>
<text transform="translate(28.4 463.3) rotate(-90) scale(0.8675 1)" font-size="11.2" text-anchor="middle" fill="#000">IL1<tspan font-family="Liberation Serif">β</tspan>/GAPDH</text>
<rect x="147.3" y="435.0" width="8.6" height="4.4" fill="#000"/>
<rect x="147.70000000000002" y="444.59999999999997" width="7.8" height="3.6" fill="#4a4a4a" stroke="#151515" stroke-width="0.8"/>
<text x="159.1" y="439.4" font-size="5.4" fill="#000" stroke-width="0.35">48 h</text>
<text x="159.1" y="448.59999999999997" font-size="5.4" fill="#000" stroke-width="0.35">72 h</text>
<text x="258.5" y="402.5" font-size="14.2" text-anchor="middle" fill="#000">Cleaved-IL1<tspan font-family="Liberation Serif">β</tspan></text>
<rect x="208.5" y="495.2866666666667" width="10.0" height="4.71333333333331" fill="#000"/>
<line x1="228.2" y1="469.36333333333334" x2="228.2" y2="482.08933333333334" stroke="#3a3a3a" stroke-width="1.0" stroke-linecap="butt"/>
<line x1="225.39999999999998" y1="469.36333333333334" x2="231.0" y2="469.36333333333334" stroke="#3a3a3a" stroke-width="1.0" stroke-linecap="butt"/>
<rect x="223.2" y="482.08933333333334" width="10.0" height="17.910666666666657" fill="#000"/>
<line x1="242.8" y1="445.0896666666667" x2="242.8" y2="469.12766666666664" stroke="#3a3a3a" stroke-width="1.0" stroke-linecap="butt"/>
<line x1="240.0" y1="445.0896666666667" x2="245.60000000000002" y2="445.0896666666667" stroke="#3a3a3a" stroke-width="1.0" stroke-linecap="butt"/>
<rect x="237.8" y="469.12766666666664" width="10.0" height="30.87233333333336" fill="#000"/>
<rect x="262.6" y="495.7866666666667" width="8.8" height="4.21333333333331" fill="#484848" stroke="#141414" stroke-width="1.0"/>
<line x1="281.5" y1="488.2166666666667" x2="281.5" y2="492.93" stroke="#3a3a3a" stroke-width="1.0" stroke-linecap="butt"/>
<line x1="278.7" y1="488.2166666666667" x2="284.3" y2="488.2166666666667" stroke="#3a3a3a" stroke-width="1.0" stroke-linecap="butt"/>
<rect x="277.1" y="493.43" width="8.8" height="6.569999999999993" fill="#484848" stroke="#141414" stroke-width="1.0"/>
<line x1="296.2" y1="486.09566666666666" x2="296.2" y2="493.16566666666665" stroke="#3a3a3a" stroke-width="1.0" stroke-linecap="butt"/>
<line x1="293.4" y1="486.09566666666666" x2="299.0" y2="486.09566666666666" stroke="#3a3a3a" stroke-width="1.0" stroke-linecap="butt"/>
<rect x="291.8" y="493.66566666666665" width="8.8" height="6.334333333333348" fill="#484848" stroke="#141414" stroke-width="1.0"/>
<line x1="204" y1="428.8" x2="204" y2="500.65" stroke="#000" stroke-width="1.3" stroke-linecap="butt"/>
<line x1="203.35" y1="500" x2="306.0" y2="500" stroke="#000" stroke-width="1.3" stroke-linecap="butt"/>
<line x1="200.8" y1="500.0" x2="204" y2="500.0" stroke="#000" stroke-width="1.1" stroke-linecap="butt"/>
<text transform="translate(200.1 503.4) scale(0.9300 1)" font-size="10.7" text-anchor="end" fill="#000">0</text>
<line x1="200.8" y1="476.43333333333334" x2="204" y2="476.43333333333334" stroke="#000" stroke-width="1.1" stroke-linecap="butt"/>
<text transform="translate(200.1 479.8333333333333) scale(0.9300 1)" font-size="10.7" text-anchor="end" fill="#000">5</text>
<line x1="200.8" y1="452.8666666666667" x2="204" y2="452.8666666666667" stroke="#000" stroke-width="1.1" stroke-linecap="butt"/>
<text transform="translate(200.1 456.26666666666665) scale(0.9300 1)" font-size="10.7" text-anchor="end" fill="#000">10</text>
<line x1="200.8" y1="429.3" x2="204" y2="429.3" stroke="#000" stroke-width="1.1" stroke-linecap="butt"/>
<text transform="translate(200.1 432.7) scale(0.9300 1)" font-size="10.7" text-anchor="end" fill="#000">15</text>
<line x1="213.5" y1="500" x2="213.5" y2="502.6" stroke="#000" stroke-width="1.0" stroke-linecap="butt"/>
<text transform="translate(213.7 512) scale(0.9400 1)" font-size="11" text-anchor="middle" fill="#000">0</text>
<line x1="228.2" y1="500" x2="228.2" y2="502.6" stroke="#000" stroke-width="1.0" stroke-linecap="butt"/>
<text transform="translate(228.39999999999998 512) scale(0.9400 1)" font-size="11" text-anchor="middle" fill="#000">10</text>
<line x1="242.8" y1="500" x2="242.8" y2="502.6" stroke="#000" stroke-width="1.0" stroke-linecap="butt"/>
<text transform="translate(243.0 512) scale(0.9400 1)" font-size="11" text-anchor="middle" fill="#000">20</text>
<line x1="267.0" y1="500" x2="267.0" y2="502.6" stroke="#000" stroke-width="1.0" stroke-linecap="butt"/>
<text transform="translate(267.2 512) scale(0.9400 1)" font-size="11" text-anchor="middle" fill="#000">0</text>
<line x1="281.5" y1="500" x2="281.5" y2="502.6" stroke="#000" stroke-width="1.0" stroke-linecap="butt"/>
<text transform="translate(281.7 512) scale(0.9400 1)" font-size="11" text-anchor="middle" fill="#000">10</text>
<line x1="296.2" y1="500" x2="296.2" y2="502.6" stroke="#000" stroke-width="1.0" stroke-linecap="butt"/>
<text transform="translate(296.4 512) scale(0.9400 1)" font-size="11" text-anchor="middle" fill="#000">20</text>
<text transform="translate(306.90000000000003 508.8) scale(0.9300 1)" font-size="11" fill="#000">(µg/ml)</text>
<line x1="205.3" y1="514.5" x2="303.3" y2="514.5" stroke="#000" stroke-width="1.5" stroke-linecap="butt"/>
<text x="254" y="523.3" font-size="8.4" text-anchor="middle" fill="#000">DENV-1 NS1</text>
<text transform="translate(188.6 465.2) rotate(-90) scale(0.9814 1)" font-size="11.2" text-anchor="middle" fill="#000">Cleaved-IL1<tspan font-family="Liberation Serif">β</tspan>/GAPDH</text>
<rect x="306.5" y="425.6" width="8.6" height="4.4" fill="#000"/>
<rect x="306.9" y="436.2" width="7.8" height="3.6" fill="#4a4a4a" stroke="#151515" stroke-width="0.8"/>
<text x="318.2" y="430.0" font-size="5.4" fill="#000" stroke-width="0.35">48 h</text>
<text x="318.2" y="440.2" font-size="5.4" fill="#000" stroke-width="0.35">72 h</text>
<text x="439" y="402.5" font-size="14.2" text-anchor="middle" fill="#000">IL1<tspan font-family="Liberation Serif">β</tspan></text>
<rect x="383" y="486.55" width="10" height="11.449999999999989" fill="#000"/>
<line x1="402.5" y1="467.085" x2="402.5" y2="479.451" stroke="#3a3a3a" stroke-width="1.0" stroke-linecap="butt"/>
<line x1="399.7" y1="467.085" x2="405.3" y2="467.085" stroke="#3a3a3a" stroke-width="1.0" stroke-linecap="butt"/>
<rect x="397.5" y="479.451" width="10.0" height="18.548999999999978" fill="#000"/>
<line x1="417.0" y1="438.231" x2="417.0" y2="468.001" stroke="#3a3a3a" stroke-width="1.0" stroke-linecap="butt"/>
<line x1="414.2" y1="438.231" x2="419.8" y2="438.231" stroke="#3a3a3a" stroke-width="1.0" stroke-linecap="butt"/>
<rect x="412" y="468.001" width="10" height="29.999000000000024" fill="#000"/>
<rect x="437.40000000000003" y="487.05" width="8.8" height="10.949999999999989" fill="#484848" stroke="#141414" stroke-width="1.0"/>
<line x1="456.3" y1="482.428" x2="456.3" y2="487.466" stroke="#3a3a3a" stroke-width="1.0" stroke-linecap="butt"/>
<line x1="453.5" y1="482.428" x2="459.1" y2="482.428" stroke="#3a3a3a" stroke-width="1.0" stroke-linecap="butt"/>
<rect x="451.90000000000003" y="487.966" width="8.8" height="10.033999999999992" fill="#484848" stroke="#141414" stroke-width="1.0"/>
<line x1="470.8" y1="479.222" x2="470.8" y2="483.22950000000003" stroke="#3a3a3a" stroke-width="1.0" stroke-linecap="butt"/>
<line x1="468.0" y1="479.222" x2="473.6" y2="479.222" stroke="#3a3a3a" stroke-width="1.0" stroke-linecap="butt"/>
<rect x="466.40000000000003" y="483.72950000000003" width="8.8" height="14.27049999999997" fill="#484848" stroke="#141414" stroke-width="1.0"/>
<line x1="378" y1="428.8" x2="378" y2="498.65" stroke="#000" stroke-width="1.3" stroke-linecap="butt"/>
<line x1="377.35" y1="498" x2="480.6" y2="498" stroke="#000" stroke-width="1.3" stroke-linecap="butt"/>
<line x1="374.8" y1="498.0" x2="378" y2="498.0" stroke="#000" stroke-width="1.1" stroke-linecap="butt"/>
<text transform="translate(374.1 501.4) scale(0.9300 1)" font-size="10.7" text-anchor="end" fill="#000">0</text>
<line x1="374.8" y1="475.1" x2="378" y2="475.1" stroke="#000" stroke-width="1.1" stroke-linecap="butt"/>
<text transform="translate(374.1 478.5) scale(0.9300 1)" font-size="10.7" text-anchor="end" fill="#000">2</text>
<line x1="374.8" y1="452.2" x2="378" y2="452.2" stroke="#000" stroke-width="1.1" stroke-linecap="butt"/>
<text transform="translate(374.1 455.59999999999997) scale(0.9300 1)" font-size="10.7" text-anchor="end" fill="#000">4</text>
<line x1="374.8" y1="429.3" x2="378" y2="429.3" stroke="#000" stroke-width="1.1" stroke-linecap="butt"/>
<text transform="translate(374.1 432.7) scale(0.9300 1)" font-size="10.7" text-anchor="end" fill="#000">6</text>
<line x1="388.0" y1="498" x2="388.0" y2="500.6" stroke="#000" stroke-width="1.0" stroke-linecap="butt"/>
<text transform="translate(388.2 510) scale(0.9400 1)" font-size="11" text-anchor="middle" fill="#000">0</text>
<line x1="402.5" y1="498" x2="402.5" y2="500.6" stroke="#000" stroke-width="1.0" stroke-linecap="butt"/>
<text transform="translate(402.7 510) scale(0.9400 1)" font-size="11" text-anchor="middle" fill="#000">10</text>
<line x1="417.0" y1="498" x2="417.0" y2="500.6" stroke="#000" stroke-width="1.0" stroke-linecap="butt"/>
<text transform="translate(417.2 510) scale(0.9400 1)" font-size="11" text-anchor="middle" fill="#000">20</text>
<line x1="441.8" y1="498" x2="441.8" y2="500.6" stroke="#000" stroke-width="1.0" stroke-linecap="butt"/>
<text transform="translate(442.0 510) scale(0.9400 1)" font-size="11" text-anchor="middle" fill="#000">0</text>
<line x1="456.3" y1="498" x2="456.3" y2="500.6" stroke="#000" stroke-width="1.0" stroke-linecap="butt"/>
<text transform="translate(456.5 510) scale(0.9400 1)" font-size="11" text-anchor="middle" fill="#000">10</text>
<line x1="470.8" y1="498" x2="470.8" y2="500.6" stroke="#000" stroke-width="1.0" stroke-linecap="butt"/>
<text transform="translate(471.0 510) scale(0.9400 1)" font-size="11" text-anchor="middle" fill="#000">20</text>
<text transform="translate(479.1 508.5) scale(0.9300 1)" font-size="11" fill="#000">(µg/ml)</text>
<line x1="381.3" y1="513.3" x2="477.5" y2="513.3" stroke="#000" stroke-width="1.5" stroke-linecap="butt"/>
<text x="440.3" y="521.8" font-size="8.4" text-anchor="middle" fill="#000">DENV-2 NS1</text>
<text transform="translate(359.7 463.7) rotate(-90) scale(0.9251 1)" font-size="11.2" text-anchor="middle" fill="#000">IL1<tspan font-family="Liberation Serif">β</tspan>/GAPDH</text>
<rect x="495.5" y="432" width="8.6" height="4.4" fill="#000"/>
<rect x="495.9" y="442.4" width="7.8" height="3.6" fill="#4a4a4a" stroke="#151515" stroke-width="0.8"/>
<text x="507.4" y="436.4" font-size="5.4" fill="#000" stroke-width="0.35">48 h</text>
<text x="507.4" y="446.4" font-size="5.4" fill="#000" stroke-width="0.35">72 h</text>
<text x="602.5" y="402.5" font-size="14.2" text-anchor="middle" fill="#000">Cleaved-IL1<tspan font-family="Liberation Serif">β</tspan></text>
<rect x="552.5" y="476.3666666666667" width="10.0" height="21.933333333333337" fill="#000"/>
<line x1="571.75" y1="459.9166666666667" x2="571.75" y2="465.4" stroke="#3a3a3a" stroke-width="1.0" stroke-linecap="butt"/>
<line x1="568.95" y1="459.9166666666667" x2="574.55" y2="459.9166666666667" stroke="#3a3a3a" stroke-width="1.0" stroke-linecap="butt"/>
<rect x="567" y="465.4" width="9.5" height="32.900000000000034" fill="#000"/>
<text x="571.95" y="459.7166666666667" font-size="6.2" text-anchor="middle" font-weight="bold" fill="#000" letter-spacing="0.4" stroke-width="0.1">*</text>
<line x1="586.05" y1="443.24733333333336" x2="586.05" y2="457.9426666666667" stroke="#3a3a3a" stroke-width="1.0" stroke-linecap="butt"/>
<line x1="583.25" y1="443.24733333333336" x2="588.8499999999999" y2="443.24733333333336" stroke="#3a3a3a" stroke-width="1.0" stroke-linecap="butt"/>
<rect x="581.3" y="457.9426666666667" width="9.5" height="40.357333333333315" fill="#000"/>
<rect x="603.9" y="476.8666666666667" width="8.8" height="21.433333333333337" fill="#484848" stroke="#141414" stroke-width="1.0"/>
<line x1="622.25" y1="464.5226666666667" x2="622.25" y2="474.17333333333335" stroke="#3a3a3a" stroke-width="1.0" stroke-linecap="butt"/>
<line x1="619.45" y1="464.5226666666667" x2="625.05" y2="464.5226666666667" stroke="#3a3a3a" stroke-width="1.0" stroke-linecap="butt"/>
<rect x="618.1" y="474.67333333333335" width="8.3" height="23.626666666666665" fill="#484848" stroke="#141414" stroke-width="1.0"/>
<line x1="636.75" y1="464.5226666666667" x2="636.75" y2="475.27" stroke="#3a3a3a" stroke-width="1.0" stroke-linecap="butt"/>
<line x1="633.95" y1="464.5226666666667" x2="639.55" y2="464.5226666666667" stroke="#3a3a3a" stroke-width="1.0" stroke-linecap="butt"/>
<rect x="632.6" y="475.77" width="8.3" height="22.53000000000003" fill="#484848" stroke="#141414" stroke-width="1.0"/>
<line x1="548.3" y1="432.0" x2="548.3" y2="498.95" stroke="#000" stroke-width="1.3" stroke-linecap="butt"/>
<line x1="547.65" y1="498.3" x2="646.3" y2="498.3" stroke="#000" stroke-width="1.3" stroke-linecap="butt"/>
<line x1="545.0999999999999" y1="498.3" x2="548.3" y2="498.3" stroke="#000" stroke-width="1.1" stroke-linecap="butt"/>
<text transform="translate(544.4 501.7) scale(0.9300 1)" font-size="10.7" text-anchor="end" fill="#000">0</text>
<line x1="545.0999999999999" y1="476.3666666666667" x2="548.3" y2="476.3666666666667" stroke="#000" stroke-width="1.1" stroke-linecap="butt"/>
<text transform="translate(544.4 479.76666666666665) scale(0.9300 1)" font-size="10.7" text-anchor="end" fill="#000">1</text>
<line x1="545.0999999999999" y1="454.43333333333334" x2="548.3" y2="454.43333333333334" stroke="#000" stroke-width="1.1" stroke-linecap="butt"/>
<text transform="translate(544.4 457.8333333333333) scale(0.9300 1)" font-size="10.7" text-anchor="end" fill="#000">2</text>
<line x1="545.0999999999999" y1="432.5" x2="548.3" y2="432.5" stroke="#000" stroke-width="1.1" stroke-linecap="butt"/>
<text transform="translate(544.4 435.9) scale(0.9300 1)" font-size="10.7" text-anchor="end" fill="#000">3</text>
<line x1="557.5" y1="498.3" x2="557.5" y2="500.90000000000003" stroke="#000" stroke-width="1.0" stroke-linecap="butt"/>
<text transform="translate(557.7 510) scale(0.9400 1)" font-size="11" text-anchor="middle" fill="#000">0</text>
<line x1="571.75" y1="498.3" x2="571.75" y2="500.90000000000003" stroke="#000" stroke-width="1.0" stroke-linecap="butt"/>
<text transform="translate(571.95 510) scale(0.9400 1)" font-size="11" text-anchor="middle" fill="#000">10</text>
<line x1="586.05" y1="498.3" x2="586.05" y2="500.90000000000003" stroke="#000" stroke-width="1.0" stroke-linecap="butt"/>
<text transform="translate(586.25 510) scale(0.9400 1)" font-size="11" text-anchor="middle" fill="#000">20</text>
<line x1="608.3" y1="498.3" x2="608.3" y2="500.90000000000003" stroke="#000" stroke-width="1.0" stroke-linecap="butt"/>
<text transform="translate(608.5 510) scale(0.9400 1)" font-size="11" text-anchor="middle" fill="#000">0</text>
<line x1="622.25" y1="498.3" x2="622.25" y2="500.90000000000003" stroke="#000" stroke-width="1.0" stroke-linecap="butt"/>
<text transform="translate(622.45 510) scale(0.9400 1)" font-size="11" text-anchor="middle" fill="#000">10</text>
<line x1="636.75" y1="498.3" x2="636.75" y2="500.90000000000003" stroke="#000" stroke-width="1.0" stroke-linecap="butt"/>
<text transform="translate(636.95 510) scale(0.9400 1)" font-size="11" text-anchor="middle" fill="#000">20</text>
<text transform="translate(646.7 507.3) scale(0.9300 1)" font-size="11" fill="#000">(µg/ml)</text>
<line x1="553.3" y1="511.6" x2="645" y2="511.6" stroke="#000" stroke-width="1.5" stroke-linecap="butt"/>
<text x="610.4" y="519.5" font-size="8.4" text-anchor="middle" fill="#000">DENV-2 NS1</text>
<text transform="translate(534.7 464.4) rotate(-90) scale(0.8713 1)" font-size="11.2" text-anchor="middle" fill="#000">Cleaved-IL1<tspan font-family="Liberation Serif">β</tspan>/GAPDH</text>
<rect x="659" y="435.4" width="8.6" height="4.4" fill="#000"/>
<rect x="659.4" y="444.4" width="7.8" height="3.6" fill="#4a4a4a" stroke="#151515" stroke-width="0.8"/>
<text x="671.9" y="439.79999999999995" font-size="5.4" fill="#000" stroke-width="0.35">48 h</text>
<text x="671.9" y="448.4" font-size="5.4" fill="#000" stroke-width="0.35">72 h</text>
<text x="101.8" y="560.5" font-size="14.2" text-anchor="middle" fill="#000">Caspase1</text>
<rect x="48" y="624.8" width="10" height="21.5" fill="#000"/>
<line x1="67.5" y1="600.29" x2="67.5" y2="614.265" stroke="#3a3a3a" stroke-width="1.0" stroke-linecap="butt"/>
<line x1="64.7" y1="600.29" x2="70.3" y2="600.29" stroke="#3a3a3a" stroke-width="1.0" stroke-linecap="butt"/>
<rect x="62.5" y="614.265" width="10.0" height="32.03499999999997" fill="#000"/>
<line x1="82.0" y1="592.12" x2="82.0" y2="611.9" stroke="#3a3a3a" stroke-width="1.0" stroke-linecap="butt"/>
<line x1="79.2" y1="592.12" x2="84.8" y2="592.12" stroke="#3a3a3a" stroke-width="1.0" stroke-linecap="butt"/>
<rect x="77" y="611.9" width="10" height="34.39999999999998" fill="#000"/>
<rect x="101.89999999999999" y="625.3" width="8.8" height="21.0" fill="#484848" stroke="#141414" stroke-width="1.0"/>
<line x1="120.9" y1="622.65" x2="120.9" y2="628.025" stroke="#3a3a3a" stroke-width="1.0" stroke-linecap="butt"/>
<line x1="118.10000000000001" y1="622.65" x2="123.7" y2="622.65" stroke="#3a3a3a" stroke-width="1.0" stroke-linecap="butt"/>
<rect x="116.6" y="628.525" width="8.599999999999998" height="17.774999999999977" fill="#484848" stroke="#141414" stroke-width="1.0"/>
<line x1="135.5" y1="619.2099999999999" x2="135.5" y2="625.2299999999999" stroke="#3a3a3a" stroke-width="1.0" stroke-linecap="butt"/>
<line x1="132.7" y1="619.2099999999999" x2="138.3" y2="619.2099999999999" stroke="#3a3a3a" stroke-width="1.0" stroke-linecap="butt"/>
<rect x="131.1" y="625.7299999999999" width="8.8" height="20.57000000000005" fill="#484848" stroke="#141414" stroke-width="1.0"/>
<line x1="43" y1="581.3" x2="43" y2="646.9499999999999" stroke="#000" stroke-width="1.3" stroke-linecap="butt"/>
<line x1="42.35" y1="646.3" x2="145.3" y2="646.3" stroke="#000" stroke-width="1.3" stroke-linecap="butt"/>
<line x1="39.8" y1="646.3" x2="43" y2="646.3" stroke="#000" stroke-width="1.1" stroke-linecap="butt"/>
<text transform="translate(39.1 649.6999999999999) scale(0.9300 1)" font-size="10.7" text-anchor="end" fill="#000">0</text>
<line x1="39.8" y1="624.8" x2="43" y2="624.8" stroke="#000" stroke-width="1.1" stroke-linecap="butt"/>
<text transform="translate(39.1 628.1999999999999) scale(0.9300 1)" font-size="10.7" text-anchor="end" fill="#000">1</text>
<line x1="39.8" y1="603.3" x2="43" y2="603.3" stroke="#000" stroke-width="1.1" stroke-linecap="butt"/>
<text transform="translate(39.1 606.6999999999999) scale(0.9300 1)" font-size="10.7" text-anchor="end" fill="#000">2</text>
<line x1="39.8" y1="581.8" x2="43" y2="581.8" stroke="#000" stroke-width="1.1" stroke-linecap="butt"/>
<text transform="translate(39.1 585.1999999999999) scale(0.9300 1)" font-size="10.7" text-anchor="end" fill="#000">3</text>
<line x1="53.0" y1="646.3" x2="53.0" y2="648.9" stroke="#000" stroke-width="1.0" stroke-linecap="butt"/>
<text transform="translate(53.2 657.5) scale(0.9400 1)" font-size="11" text-anchor="middle" fill="#000">0</text>
<line x1="67.5" y1="646.3" x2="67.5" y2="648.9" stroke="#000" stroke-width="1.0" stroke-linecap="butt"/>
<text transform="translate(67.7 657.5) scale(0.9400 1)" font-size="11" text-anchor="middle" fill="#000">10</text>
<line x1="82.0" y1="646.3" x2="82.0" y2="648.9" stroke="#000" stroke-width="1.0" stroke-linecap="butt"/>
<text transform="translate(82.2 657.5) scale(0.9400 1)" font-size="11" text-anchor="middle" fill="#000">20</text>
<line x1="106.3" y1="646.3" x2="106.3" y2="648.9" stroke="#000" stroke-width="1.0" stroke-linecap="butt"/>
<text transform="translate(106.5 657.5) scale(0.9400 1)" font-size="11" text-anchor="middle" fill="#000">0</text>
<line x1="120.9" y1="646.3" x2="120.9" y2="648.9" stroke="#000" stroke-width="1.0" stroke-linecap="butt"/>
<text transform="translate(121.10000000000001 657.5) scale(0.9400 1)" font-size="11" text-anchor="middle" fill="#000">10</text>
<line x1="135.5" y1="646.3" x2="135.5" y2="648.9" stroke="#000" stroke-width="1.0" stroke-linecap="butt"/>
<text transform="translate(135.7 657.5) scale(0.9400 1)" font-size="11" text-anchor="middle" fill="#000">20</text>
<text transform="translate(146.6 655.5) scale(0.9300 1)" font-size="11" fill="#000">(µg/ml)</text>
<line x1="45" y1="660.5" x2="142.5" y2="660.5" stroke="#000" stroke-width="1.5" stroke-linecap="butt"/>
<text x="93.3" y="669.3" font-size="8.4" text-anchor="middle" fill="#000">DENV-1 NS1</text>
<text transform="translate(25.5 614.1) rotate(-90) scale(0.8589 1)" font-size="11.2" text-anchor="middle" fill="#000">Caspase1/GAPDH</text>
<rect x="146.3" y="583.2" width="8.6" height="4.4" fill="#000"/>
<rect x="146.70000000000002" y="592.9" width="7.8" height="3.6" fill="#4a4a4a" stroke="#151515" stroke-width="0.8"/>
<text x="157.9" y="587.6" font-size="5.4" fill="#000" stroke-width="0.35">48 h</text>
<text x="157.9" y="596.9" font-size="5.4" fill="#000" stroke-width="0.35">72 h</text>
<text x="282.8" y="560.5" font-size="14.2" text-anchor="middle" fill="#000">Cleaved-Caspase1</text>
<rect x="211" y="636.9" width="10" height="13.399999999999977" fill="#000"/>
<line x1="230.7" y1="617.202" x2="230.7" y2="622.9639999999999" stroke="#3a3a3a" stroke-width="1.0" stroke-linecap="butt"/>
<line x1="227.89999999999998" y1="617.202" x2="233.5" y2="617.202" stroke="#3a3a3a" stroke-width="1.0" stroke-linecap="butt"/>
<rect x="225.8" y="622.9639999999999" width="9.799999999999983" height="27.336000000000013" fill="#000"/>
<line x1="245.3" y1="597.236" x2="245.3" y2="615.728" stroke="#3a3a3a" stroke-width="1.0" stroke-linecap="butt"/>
<line x1="242.5" y1="597.236" x2="248.10000000000002" y2="597.236" stroke="#3a3a3a" stroke-width="1.0" stroke-linecap="butt"/>
<rect x="240.3" y="615.728" width="10.0" height="34.572" fill="#000"/>
<rect x="265.1" y="637.4" width="8.8" height="12.899999999999977" fill="#484848" stroke="#141414" stroke-width="1.0"/>
<line x1="284.0" y1="639.3119999999999" x2="284.0" y2="641.7239999999999" stroke="#3a3a3a" stroke-width="1.0" stroke-linecap="butt"/>
<line x1="281.2" y1="639.3119999999999" x2="286.8" y2="639.3119999999999" stroke="#3a3a3a" stroke-width="1.0" stroke-linecap="butt"/>
<rect x="279.6" y="642.2239999999999" width="8.8" height="8.076000000000022" fill="#484848" stroke="#141414" stroke-width="1.0"/>
<line x1="298.5" y1="639.3119999999999" x2="298.5" y2="641.7239999999999" stroke="#3a3a3a" stroke-width="1.0" stroke-linecap="butt"/>
<line x1="295.7" y1="639.3119999999999" x2="301.3" y2="639.3119999999999" stroke="#3a3a3a" stroke-width="1.0" stroke-linecap="butt"/>
<rect x="294.1" y="642.2239999999999" width="8.8" height="8.076000000000022" fill="#484848" stroke="#141414" stroke-width="1.0"/>
<line x1="206.5" y1="582.8" x2="206.5" y2="650.9499999999999" stroke="#000" stroke-width="1.3" stroke-linecap="butt"/>
<line x1="205.85" y1="650.3" x2="308.3" y2="650.3" stroke="#000" stroke-width="1.3" stroke-linecap="butt"/>
<line x1="203.3" y1="650.3" x2="206.5" y2="650.3" stroke="#000" stroke-width="1.1" stroke-linecap="butt"/>
<text transform="translate(202.6 653.6999999999999) scale(0.9300 1)" font-size="10.7" text-anchor="end" fill="#000">0</text>
<line x1="203.3" y1="636.9" x2="206.5" y2="636.9" stroke="#000" stroke-width="1.1" stroke-linecap="butt"/>
<text transform="translate(202.6 640.3) scale(0.9300 1)" font-size="10.7" text-anchor="end" fill="#000">1</text>
<line x1="203.3" y1="623.5" x2="206.5" y2="623.5" stroke="#000" stroke-width="1.1" stroke-linecap="butt"/>
<text transform="translate(202.6 626.9) scale(0.9300 1)" font-size="10.7" text-anchor="end" fill="#000">2</text>
<line x1="203.3" y1="610.0999999999999" x2="206.5" y2="610.0999999999999" stroke="#000" stroke-width="1.1" stroke-linecap="butt"/>
<text transform="translate(202.6 613.4999999999999) scale(0.9300 1)" font-size="10.7" text-anchor="end" fill="#000">3</text>
<line x1="203.3" y1="596.6999999999999" x2="206.5" y2="596.6999999999999" stroke="#000" stroke-width="1.1" stroke-linecap="butt"/>
<text transform="translate(202.6 600.0999999999999) scale(0.9300 1)" font-size="10.7" text-anchor="end" fill="#000">4</text>
<line x1="203.3" y1="583.3" x2="206.5" y2="583.3" stroke="#000" stroke-width="1.1" stroke-linecap="butt"/>
<text transform="translate(202.6 586.6999999999999) scale(0.9300 1)" font-size="10.7" text-anchor="end" fill="#000">5</text>
<line x1="216.0" y1="650.3" x2="216.0" y2="652.9" stroke="#000" stroke-width="1.0" stroke-linecap="butt"/>
<text transform="translate(216.2 662.5) scale(0.9400 1)" font-size="11" text-anchor="middle" fill="#000">0</text>
<line x1="230.7" y1="650.3" x2="230.7" y2="652.9" stroke="#000" stroke-width="1.0" stroke-linecap="butt"/>
<text transform="translate(230.89999999999998 662.5) scale(0.9400 1)" font-size="11" text-anchor="middle" fill="#000">10</text>
<line x1="245.3" y1="650.3" x2="245.3" y2="652.9" stroke="#000" stroke-width="1.0" stroke-linecap="butt"/>
<text transform="translate(245.5 662.5) scale(0.9400 1)" font-size="11" text-anchor="middle" fill="#000">20</text>
<line x1="269.5" y1="650.3" x2="269.5" y2="652.9" stroke="#000" stroke-width="1.0" stroke-linecap="butt"/>
<text transform="translate(269.7 662.5) scale(0.9400 1)" font-size="11" text-anchor="middle" fill="#000">0</text>
<line x1="284.0" y1="650.3" x2="284.0" y2="652.9" stroke="#000" stroke-width="1.0" stroke-linecap="butt"/>
<text transform="translate(284.2 662.5) scale(0.9400 1)" font-size="11" text-anchor="middle" fill="#000">10</text>
<line x1="298.5" y1="650.3" x2="298.5" y2="652.9" stroke="#000" stroke-width="1.0" stroke-linecap="butt"/>
<text transform="translate(298.7 662.5) scale(0.9400 1)" font-size="11" text-anchor="middle" fill="#000">20</text>
<text transform="translate(310.70000000000005 659.6) scale(0.9300 1)" font-size="11" fill="#000">(µg/ml)</text>
<line x1="208.3" y1="665.8" x2="306.2" y2="665.8" stroke="#000" stroke-width="1.5" stroke-linecap="butt"/>
<text x="256.8" y="674.3" font-size="8.4" text-anchor="middle" fill="#000">DENV-1 NS1</text>
<text transform="translate(189.7 614.1) rotate(-90) scale(0.8908 1)" font-size="11.2" text-anchor="middle" fill="#000">Cleaved-Caspase1/GAPDH</text>
<rect x="304" y="584.2" width="8.6" height="4.4" fill="#000"/>
<rect x="304.4" y="593.6999999999999" width="7.8" height="3.6" fill="#4a4a4a" stroke="#151515" stroke-width="0.8"/>
<text x="315.7" y="588.6" font-size="5.4" fill="#000" stroke-width="0.35">48 h</text>
<text x="315.7" y="597.6999999999999" font-size="5.4" fill="#000" stroke-width="0.35">72 h</text>
<text x="431.3" y="560.5" font-size="14.2" text-anchor="middle" fill="#000">Caspase1</text>
<rect x="380" y="636.0" width="10" height="17.0" fill="#000"/>
<line x1="400.0" y1="625.29" x2="400.0" y2="629.71" stroke="#3a3a3a" stroke-width="1.0" stroke-linecap="butt"/>
<line x1="397.2" y1="625.29" x2="402.8" y2="625.29" stroke="#3a3a3a" stroke-width="1.0" stroke-linecap="butt"/>
<rect x="395" y="629.71" width="10" height="23.289999999999964" fill="#000"/>
<line x1="414.8" y1="625.29" x2="414.8" y2="630.9" stroke="#3a3a3a" stroke-width="1.0" stroke-linecap="butt"/>
<line x1="412.0" y1="625.29" x2="417.6" y2="625.29" stroke="#3a3a3a" stroke-width="1.0" stroke-linecap="butt"/>
<rect x="410" y="630.9" width="9.600000000000023" height="22.100000000000023" fill="#000"/>
<rect x="435.6" y="636.5" width="8.400000000000023" height="16.5" fill="#484848" stroke="#141414" stroke-width="1.0"/>
<line x1="454.8" y1="597.41" x2="454.8" y2="612.03" stroke="#3a3a3a" stroke-width="1.0" stroke-linecap="butt"/>
<line x1="452.0" y1="597.41" x2="457.6" y2="597.41" stroke="#3a3a3a" stroke-width="1.0" stroke-linecap="butt"/>
<rect x="450.6" y="612.53" width="8.400000000000023" height="40.47000000000003" fill="#484848" stroke="#141414" stroke-width="1.0"/>
<text x="455.0" y="597.2099999999999" font-size="6.2" text-anchor="middle" font-weight="bold" fill="#000" letter-spacing="0.4" stroke-width="0.1">*</text>
<line x1="469.8" y1="602.17" x2="469.8" y2="609.99" stroke="#3a3a3a" stroke-width="1.0" stroke-linecap="butt"/>
<line x1="467.0" y1="602.17" x2="472.6" y2="602.17" stroke="#3a3a3a" stroke-width="1.0" stroke-linecap="butt"/>
<rect x="465.6" y="610.49" width="8.400000000000023" height="42.50999999999999" fill="#484848" stroke="#141414" stroke-width="1.0"/>
<text x="470.0" y="601.9699999999999" font-size="6.2" text-anchor="middle" font-weight="bold" fill="#000" letter-spacing="0.4" stroke-width="0.1">***</text>
<line x1="375" y1="584.5" x2="375" y2="653.65" stroke="#000" stroke-width="1.3" stroke-linecap="butt"/>
<line x1="374.35" y1="653" x2="479.40000000000003" y2="653" stroke="#000" stroke-width="1.3" stroke-linecap="butt"/>
<line x1="371.8" y1="653.0" x2="375" y2="653.0" stroke="#000" stroke-width="1.1" stroke-linecap="butt"/>
<text transform="translate(371.1 656.4) scale(0.9300 1)" font-size="10.7" text-anchor="end" fill="#000">0</text>
<line x1="371.8" y1="636.0" x2="375" y2="636.0" stroke="#000" stroke-width="1.1" stroke-linecap="butt"/>
<text transform="translate(371.1 639.4) scale(0.9300 1)" font-size="10.7" text-anchor="end" fill="#000">1</text>
<line x1="371.8" y1="619.0" x2="375" y2="619.0" stroke="#000" stroke-width="1.1" stroke-linecap="butt"/>
<text transform="translate(371.1 622.4) scale(0.9300 1)" font-size="10.7" text-anchor="end" fill="#000">2</text>
<line x1="371.8" y1="602.0" x2="375" y2="602.0" stroke="#000" stroke-width="1.1" stroke-linecap="butt"/>
<text transform="translate(371.1 605.4) scale(0.9300 1)" font-size="10.7" text-anchor="end" fill="#000">3</text>
<line x1="371.8" y1="585.0" x2="375" y2="585.0" stroke="#000" stroke-width="1.1" stroke-linecap="butt"/>
<text transform="translate(371.1 588.4) scale(0.9300 1)" font-size="10.7" text-anchor="end" fill="#000">4</text>
<line x1="385.0" y1="653" x2="385.0" y2="655.6" stroke="#000" stroke-width="1.0" stroke-linecap="butt"/>
<text transform="translate(385.2 665.5) scale(0.9400 1)" font-size="11" text-anchor="middle" fill="#000">0</text>
<line x1="400.0" y1="653" x2="400.0" y2="655.6" stroke="#000" stroke-width="1.0" stroke-linecap="butt"/>
<text transform="translate(400.2 665.5) scale(0.9400 1)" font-size="11" text-anchor="middle" fill="#000">10</text>
<line x1="414.8" y1="653" x2="414.8" y2="655.6" stroke="#000" stroke-width="1.0" stroke-linecap="butt"/>
<text transform="translate(415.0 665.5) scale(0.9400 1)" font-size="11" text-anchor="middle" fill="#000">20</text>
<line x1="439.8" y1="653" x2="439.8" y2="655.6" stroke="#000" stroke-width="1.0" stroke-linecap="butt"/>
<text transform="translate(440.0 665.5) scale(0.9400 1)" font-size="11" text-anchor="middle" fill="#000">0</text>
<line x1="454.8" y1="653" x2="454.8" y2="655.6" stroke="#000" stroke-width="1.0" stroke-linecap="butt"/>
<text transform="translate(455.0 665.5) scale(0.9400 1)" font-size="11" text-anchor="middle" fill="#000">10</text>
<line x1="469.8" y1="653" x2="469.8" y2="655.6" stroke="#000" stroke-width="1.0" stroke-linecap="butt"/>
<text transform="translate(470.0 665.5) scale(0.9400 1)" font-size="11" text-anchor="middle" fill="#000">20</text>
<text transform="translate(481.1 663.8) scale(0.9300 1)" font-size="11" fill="#000">(µg/ml)</text>
<line x1="381.3" y1="668" x2="481" y2="668" stroke="#000" stroke-width="1.5" stroke-linecap="butt"/>
<text x="443.2" y="676.3" font-size="8.4" text-anchor="middle" fill="#000">DENV-2 NS1</text>
<text transform="translate(361.3 618.8) rotate(-90) scale(0.9103 1)" font-size="11.2" text-anchor="middle" fill="#000">Caspase1/GAPDH</text>
<rect x="495.5" y="588" width="8.6" height="4.4" fill="#000"/>
<rect x="495.9" y="597.4" width="7.8" height="3.6" fill="#4a4a4a" stroke="#151515" stroke-width="0.8"/>
<text x="507.4" y="592.4" font-size="5.4" fill="#000" stroke-width="0.35">48 h</text>
<text x="507.4" y="601.4" font-size="5.4" fill="#000" stroke-width="0.35">72 h</text>
<text x="603.3" y="560.5" font-size="14.2" text-anchor="middle" fill="#000">Cleaved-Caspase1</text>
<rect x="553.3" y="632.8333333333334" width="10.0" height="22.66666666666663" fill="#000"/>
<line x1="573.0" y1="615.1533333333333" x2="573.0" y2="619.2333333333333" stroke="#3a3a3a" stroke-width="1.0" stroke-linecap="butt"/>
<line x1="570.2" y1="615.1533333333333" x2="575.8" y2="615.1533333333333" stroke="#3a3a3a" stroke-width="1.0" stroke-linecap="butt"/>
<rect x="568.2" y="619.2333333333333" width="9.599999999999909" height="36.26666666666665" fill="#000"/>
<text x="573.2" y="614.9533333333333" font-size="6.2" text-anchor="middle" font-weight="bold" fill="#000" letter-spacing="0.4" stroke-width="0.1">**</text>
<line x1="587.8" y1="594.5266666666666" x2="587.8" y2="606.54" stroke="#3a3a3a" stroke-width="1.0" stroke-linecap="butt"/>
<line x1="585.0" y1="594.5266666666666" x2="590.5999999999999" y2="594.5266666666666" stroke="#3a3a3a" stroke-width="1.0" stroke-linecap="butt"/>
<rect x="582.8" y="606.54" width="10.0" height="48.960000000000036" fill="#000"/>
<text x="588.0" y="594.3266666666666" font-size="6.2" text-anchor="middle" font-weight="bold" fill="#000" letter-spacing="0.4" stroke-width="0.1">*</text>
<rect x="608.4" y="633.3333333333334" width="8.8" height="22.16666666666663" fill="#484848" stroke="#141414" stroke-width="1.0"/>
<line x1="627.0" y1="618.78" x2="627.0" y2="633.2866666666666" stroke="#3a3a3a" stroke-width="1.0" stroke-linecap="butt"/>
<line x1="624.2" y1="618.78" x2="629.8" y2="618.78" stroke="#3a3a3a" stroke-width="1.0" stroke-linecap="butt"/>
<rect x="622.6" y="633.7866666666666" width="8.8" height="21.713333333333367" fill="#484848" stroke="#141414" stroke-width="1.0"/>
<line x1="641.5" y1="622.18" x2="641.5" y2="628.98" stroke="#3a3a3a" stroke-width="1.0" stroke-linecap="butt"/>
<line x1="638.7" y1="622.18" x2="644.3" y2="622.18" stroke="#3a3a3a" stroke-width="1.0" stroke-linecap="butt"/>
<rect x="637.1" y="629.48" width="8.8" height="26.019999999999982" fill="#484848" stroke="#141414" stroke-width="1.0"/>
<line x1="548.8" y1="587.0" x2="548.8" y2="656.15" stroke="#000" stroke-width="1.3" stroke-linecap="butt"/>
<line x1="548.15" y1="655.5" x2="651.3" y2="655.5" stroke="#000" stroke-width="1.3" stroke-linecap="butt"/>
<line x1="545.5999999999999" y1="655.5" x2="548.8" y2="655.5" stroke="#000" stroke-width="1.1" stroke-linecap="butt"/>
<text transform="translate(544.9 658.9) scale(0.9300 1)" font-size="10.7" text-anchor="end" fill="#000">0</text>
<line x1="545.5999999999999" y1="632.8333333333334" x2="548.8" y2="632.8333333333334" stroke="#000" stroke-width="1.1" stroke-linecap="butt"/>
<text transform="translate(544.9 636.2333333333333) scale(0.9300 1)" font-size="10.7" text-anchor="end" fill="#000">1</text>
<line x1="545.5999999999999" y1="610.1666666666666" x2="548.8" y2="610.1666666666666" stroke="#000" stroke-width="1.1" stroke-linecap="butt"/>
<text transform="translate(544.9 613.5666666666666) scale(0.9300 1)" font-size="10.7" text-anchor="end" fill="#000">2</text>
<line x1="545.5999999999999" y1="587.5" x2="548.8" y2="587.5" stroke="#000" stroke-width="1.1" stroke-linecap="butt"/>
<text transform="translate(544.9 590.9) scale(0.9300 1)" font-size="10.7" text-anchor="end" fill="#000">3</text>
<line x1="558.3" y1="655.5" x2="558.3" y2="658.1" stroke="#000" stroke-width="1.0" stroke-linecap="butt"/>
<text transform="translate(558.5 668) scale(0.9400 1)" font-size="11" text-anchor="middle" fill="#000">0</text>
<line x1="573.0" y1="655.5" x2="573.0" y2="658.1" stroke="#000" stroke-width="1.0" stroke-linecap="butt"/>
<text transform="translate(573.2 668) scale(0.9400 1)" font-size="11" text-anchor="middle" fill="#000">10</text>
<line x1="587.8" y1="655.5" x2="587.8" y2="658.1" stroke="#000" stroke-width="1.0" stroke-linecap="butt"/>
<text transform="translate(588.0 668) scale(0.9400 1)" font-size="11" text-anchor="middle" fill="#000">20</text>
<line x1="612.8" y1="655.5" x2="612.8" y2="658.1" stroke="#000" stroke-width="1.0" stroke-linecap="butt"/>
<text transform="translate(613.0 668) scale(0.9400 1)" font-size="11" text-anchor="middle" fill="#000">0</text>
<line x1="627.0" y1="655.5" x2="627.0" y2="658.1" stroke="#000" stroke-width="1.0" stroke-linecap="butt"/>
<text transform="translate(627.2 668) scale(0.9400 1)" font-size="11" text-anchor="middle" fill="#000">10</text>
<line x1="641.5" y1="655.5" x2="641.5" y2="658.1" stroke="#000" stroke-width="1.0" stroke-linecap="butt"/>
<text transform="translate(641.7 668) scale(0.9400 1)" font-size="11" text-anchor="middle" fill="#000">20</text>
<text transform="translate(653.6 666.3) scale(0.9300 1)" font-size="11" fill="#000">(µg/ml)</text>
<line x1="555.8" y1="670.8" x2="652" y2="670.8" stroke="#000" stroke-width="1.5" stroke-linecap="butt"/>
<text x="615.4" y="678.8" font-size="8.4" text-anchor="middle" fill="#000">DENV-2 NS1</text>
<text transform="translate(532.8 618.5) rotate(-90) scale(0.9009 1)" font-size="11.2" text-anchor="middle" fill="#000">Cleaved-Caspase1/GAPDH</text>
<rect x="667.5" y="590" width="8.6" height="4.4" fill="#000"/>
<rect x="667.9" y="600.4" width="7.8" height="3.6" fill="#4a4a4a" stroke="#151515" stroke-width="0.8"/>
<text x="679.4" y="594.4" font-size="5.4" fill="#000" stroke-width="0.35">48 h</text>
<text x="679.4" y="604.4" font-size="5.4" fill="#000" stroke-width="0.35">72 h</text>
<text x="0.2" y="712" font-size="19.3" fill="#000">G</text>
<line x1="77" y1="792.216" x2="77" y2="798.3" stroke="#000" stroke-width="1.1" stroke-linecap="butt"/>
<line x1="73.75" y1="792.216" x2="80.25" y2="792.216" stroke="#000" stroke-width="1.1" stroke-linecap="butt"/>
<line x1="92.5" y1="742.53" x2="92.5" y2="754.2473333333332" stroke="#000" stroke-width="1.1" stroke-linecap="butt"/>
<line x1="89.25" y1="742.53" x2="95.75" y2="742.53" stroke="#000" stroke-width="1.1" stroke-linecap="butt"/>
<rect x="87.2" y="754.2473333333332" width="10.6" height="44.05266666666671" fill="#000"/>
<line x1="108.3" y1="765.4576666666666" x2="108.3" y2="776.2173333333333" stroke="#000" stroke-width="1.1" stroke-linecap="butt"/>
<line x1="105.05" y1="765.4576666666666" x2="111.55" y2="765.4576666666666" stroke="#000" stroke-width="1.1" stroke-linecap="butt"/>
<rect x="103.0" y="776.2173333333333" width="10.6" height="22.082666666666682" fill="#000"/>
<text x="108.3" y="765.9576666666666" font-size="8.5" text-anchor="middle" font-weight="bold" fill="#000">***</text>
<line x1="124.3" y1="762.472" x2="124.3" y2="775.2033333333333" stroke="#000" stroke-width="1.1" stroke-linecap="butt"/>
<line x1="121.05" y1="762.472" x2="127.55" y2="762.472" stroke="#000" stroke-width="1.1" stroke-linecap="butt"/>
<rect x="119.0" y="775.2033333333333" width="10.6" height="23.096666666666692" fill="#000"/>
<text x="124.3" y="762.972" font-size="8.5" text-anchor="middle" font-weight="bold" fill="#000">***</text>
<line x1="140.3" y1="757.9653333333333" x2="140.3" y2="773.2316666666666" stroke="#000" stroke-width="1.1" stroke-linecap="butt"/>
<line x1="137.05" y1="757.9653333333333" x2="143.55" y2="757.9653333333333" stroke="#000" stroke-width="1.1" stroke-linecap="butt"/>
<rect x="135.0" y="773.2316666666666" width="10.6" height="25.068333333333385" fill="#000"/>
<text x="140.3" y="758.4653333333333" font-size="8.5" text-anchor="middle" font-weight="bold" fill="#000">*</text>
<path d="M77.5 738.8 V734.3 H95 V738.8" fill="none" stroke="#000" stroke-width="1.6"/>
<text x="86.3" y="730" font-size="6.5" text-anchor="middle" font-weight="bold" fill="#000">###</text>
<line x1="66.3" y1="713.1999999999999" x2="66.3" y2="798.9" stroke="#000" stroke-width="1.3" stroke-linecap="butt"/>
<line x1="65.7" y1="798.3" x2="150" y2="798.3" stroke="#000" stroke-width="1.3" stroke-linecap="butt"/>
<line x1="62.5" y1="798.3" x2="66.3" y2="798.3" stroke="#000" stroke-width="1.3" stroke-linecap="butt"/>
<text x="61.3" y="802.1999999999999" font-size="11" text-anchor="end" fill="#000">0</text>
<line x1="62.5" y1="770.1333333333333" x2="66.3" y2="770.1333333333333" stroke="#000" stroke-width="1.3" stroke-linecap="butt"/>
<text x="61.3" y="774.0333333333333" font-size="11" text-anchor="end" fill="#000">5</text>
<line x1="62.5" y1="741.9666666666666" x2="66.3" y2="741.9666666666666" stroke="#000" stroke-width="1.3" stroke-linecap="butt"/>
<text x="61.3" y="745.8666666666666" font-size="11" text-anchor="end" fill="#000">10</text>
<line x1="62.5" y1="713.8" x2="66.3" y2="713.8" stroke="#000" stroke-width="1.3" stroke-linecap="butt"/>
<text x="61.3" y="717.6999999999999" font-size="11" text-anchor="end" fill="#000">15</text>
<line x1="77" y1="798.3" x2="77" y2="801.5" stroke="#000" stroke-width="1.2" stroke-linecap="butt"/>
<text x="81.2" y="802.5" font-size="11.9" text-anchor="end" transform="rotate(-90 81.2 802.5)" fill="#000">Mock</text>
<line x1="92.5" y1="798.3" x2="92.5" y2="801.5" stroke="#000" stroke-width="1.2" stroke-linecap="butt"/>
<text x="96.4" y="802.5" font-size="11" text-anchor="end" transform="rotate(-90 96.4 802.5)" fill="#000">0</text>
<line x1="108.3" y1="798.3" x2="108.3" y2="801.5" stroke="#000" stroke-width="1.2" stroke-linecap="butt"/>
<text x="112.2" y="802.5" font-size="11" text-anchor="end" transform="rotate(-90 112.2 802.5)" fill="#000">10</text>
<line x1="124.3" y1="798.3" x2="124.3" y2="801.5" stroke="#000" stroke-width="1.2" stroke-linecap="butt"/>
<text x="128.2" y="802.5" font-size="11" text-anchor="end" transform="rotate(-90 128.2 802.5)" fill="#000">25</text>
<line x1="140.3" y1="798.3" x2="140.3" y2="801.5" stroke="#000" stroke-width="1.2" stroke-linecap="butt"/>
<text x="144.20000000000002" y="802.5" font-size="11" text-anchor="end" transform="rotate(-90 144.20000000000002 802.5)" fill="#000">55</text>
<text x="40.2" y="756" font-size="12.7" text-anchor="middle" transform="rotate(-90 40.2 756)" fill="#000">Cytotoxicity (%)</text>
<text x="152" y="808.8" font-size="10.8" fill="#000">(µM)</text>
<line x1="87" y1="817" x2="150" y2="817" stroke="#000" stroke-width="1.4" stroke-linecap="butt"/>
<text x="88.8" y="827.8" font-size="10.2" fill="#000">Ac-YVAD-cmk</text>
<line x1="87" y1="830" x2="161.6" y2="830" stroke="#000" stroke-width="1.4" stroke-linecap="butt"/>
<text x="123.2" y="840.8" font-size="10.2" text-anchor="middle" fill="#000">DENV-1 NS1</text>
<line x1="226.8" y1="792.216" x2="226.8" y2="798.3" stroke="#000" stroke-width="1.1" stroke-linecap="butt"/>
<line x1="223.55" y1="792.216" x2="230.05" y2="792.216" stroke="#000" stroke-width="1.1" stroke-linecap="butt"/>
<line x1="242.4" y1="751.2053333333333" x2="242.4" y2="761.2326666666667" stroke="#000" stroke-width="1.1" stroke-linecap="butt"/>
<line x1="239.15" y1="751.2053333333333" x2="245.65" y2="751.2053333333333" stroke="#000" stroke-width="1.1" stroke-linecap="butt"/>
<rect x="237.1" y="761.2326666666667" width="10.6" height="37.067333333333295" fill="#000"/>
<line x1="258.3" y1="775.2033333333333" x2="258.3" y2="782.9773333333333" stroke="#000" stroke-width="1.1" stroke-linecap="butt"/>
<line x1="255.05" y1="775.2033333333333" x2="261.55" y2="775.2033333333333" stroke="#000" stroke-width="1.1" stroke-linecap="butt"/>
<rect x="253.0" y="782.9773333333333" width="10.6" height="15.322666666666692" fill="#000"/>
<text x="258.3" y="775.7033333333333" font-size="8.5" text-anchor="middle" font-weight="bold" fill="#000">***</text>
<line x1="274.3" y1="769.4573333333333" x2="274.3" y2="781.7379999999999" stroke="#000" stroke-width="1.1" stroke-linecap="butt"/>
<line x1="271.05" y1="769.4573333333333" x2="277.55" y2="769.4573333333333" stroke="#000" stroke-width="1.1" stroke-linecap="butt"/>
<rect x="269.0" y="781.7379999999999" width="10.6" height="16.562000000000012" fill="#000"/>
<text x="274.3" y="769.9573333333333" font-size="8.5" text-anchor="middle" font-weight="bold" fill="#000">***</text>
<line x1="290.3" y1="772.4993333333333" x2="290.3" y2="782.9773333333333" stroke="#000" stroke-width="1.1" stroke-linecap="butt"/>
<line x1="287.05" y1="772.4993333333333" x2="293.55" y2="772.4993333333333" stroke="#000" stroke-width="1.1" stroke-linecap="butt"/>
<rect x="285.0" y="782.9773333333333" width="10.6" height="15.322666666666692" fill="#000"/>
<text x="290.3" y="772.9993333333333" font-size="8.5" text-anchor="middle" font-weight="bold" fill="#000">***</text>
<path d="M221 747.7 V743.2 H242 V747.7" fill="none" stroke="#000" stroke-width="1.6"/>
<text x="231.5" y="738.3" font-size="6.5" text-anchor="middle" font-weight="bold" fill="#000">###</text>
<line x1="216" y1="713.1999999999999" x2="216" y2="798.9" stroke="#000" stroke-width="1.3" stroke-linecap="butt"/>
<line x1="215.4" y1="798.3" x2="299.8" y2="798.3" stroke="#000" stroke-width="1.3" stroke-linecap="butt"/>
<line x1="212.2" y1="798.3" x2="216" y2="798.3" stroke="#000" stroke-width="1.3" stroke-linecap="butt"/>
<text x="210.8" y="802.1999999999999" font-size="11" text-anchor="end" fill="#000">0</text>
<line x1="212.2" y1="770.1333333333333" x2="216" y2="770.1333333333333" stroke="#000" stroke-width="1.3" stroke-linecap="butt"/>
<text x="210.8" y="774.0333333333333" font-size="11" text-anchor="end" fill="#000">5</text>
<line x1="212.2" y1="741.9666666666666" x2="216" y2="741.9666666666666" stroke="#000" stroke-width="1.3" stroke-linecap="butt"/>
<text x="210.8" y="745.8666666666666" font-size="11" text-anchor="end" fill="#000">10</text>
<line x1="212.2" y1="713.8" x2="216" y2="713.8" stroke="#000" stroke-width="1.3" stroke-linecap="butt"/>
<text x="210.8" y="717.6999999999999" font-size="11" text-anchor="end" fill="#000">15</text>
<line x1="226.8" y1="798.3" x2="226.8" y2="801.5" stroke="#000" stroke-width="1.2" stroke-linecap="butt"/>
<text x="231.0" y="802.5" font-size="11.9" text-anchor="end" transform="rotate(-90 231.0 802.5)" fill="#000">Mock</text>
<line x1="242.4" y1="798.3" x2="242.4" y2="801.5" stroke="#000" stroke-width="1.2" stroke-linecap="butt"/>
<text x="246.3" y="802.5" font-size="11" text-anchor="end" transform="rotate(-90 246.3 802.5)" fill="#000">0</text>
<line x1="258.3" y1="798.3" x2="258.3" y2="801.5" stroke="#000" stroke-width="1.2" stroke-linecap="butt"/>
<text x="262.2" y="802.5" font-size="11" text-anchor="end" transform="rotate(-90 262.2 802.5)" fill="#000">10</text>
<line x1="274.3" y1="798.3" x2="274.3" y2="801.5" stroke="#000" stroke-width="1.2" stroke-linecap="butt"/>
<text x="278.2" y="802.5" font-size="11" text-anchor="end" transform="rotate(-90 278.2 802.5)" fill="#000">25</text>
<line x1="290.3" y1="798.3" x2="290.3" y2="801.5" stroke="#000" stroke-width="1.2" stroke-linecap="butt"/>
<text x="294.2" y="802.5" font-size="11" text-anchor="end" transform="rotate(-90 294.2 802.5)" fill="#000">55</text>
<text x="191.8" y="756" font-size="12.7" text-anchor="middle" transform="rotate(-90 191.8 756)" fill="#000">Cytotoxicity (%)</text>
<text x="302" y="809.5" font-size="10.8" fill="#000">(µM)</text>
<line x1="236.5" y1="817" x2="299.8" y2="817" stroke="#000" stroke-width="1.4" stroke-linecap="butt"/>
<text x="238.5" y="827.8" font-size="10.2" fill="#000">Ac-YVAD-cmk</text>
<line x1="236.5" y1="830" x2="311.5" y2="830" stroke="#000" stroke-width="1.4" stroke-linecap="butt"/>
<text x="273.4" y="840.8" font-size="10.2" text-anchor="middle" fill="#000">DENV-2 NS1</text>
<text x="337.9" y="711.7" font-size="18.8" fill="#000">H</text>
<text x="426.5" y="715" font-size="14" text-anchor="middle" fill="#000">IL1b</text>
<line x1="401.05" y1="768.2447999999999" x2="401.05" y2="771.8048" stroke="#222" stroke-width="0.9" stroke-linecap="butt"/>
<line x1="396.05" y1="768.2447999999999" x2="406.05" y2="768.2447999999999" stroke="#222" stroke-width="0.9" stroke-linecap="butt"/>
<rect x="390.8" y="771.8048" width="20.5" height="28.1952" fill="#000"/>
<line x1="432.0" y1="737.6288" x2="432.0" y2="739.7647999999999" stroke="#222" stroke-width="0.9" stroke-linecap="butt"/>
<line x1="427.0" y1="737.6288" x2="437.0" y2="737.6288" stroke="#222" stroke-width="0.9" stroke-linecap="butt"/>
<rect x="422" y="739.7647999999999" width="20" height="60.23520000000008" fill="#000"/>
<line x1="463.15" y1="777.216" x2="463.15" y2="778.01344" stroke="#222" stroke-width="0.9" stroke-linecap="butt"/>
<line x1="458.15" y1="777.216" x2="468.15" y2="777.216" stroke="#222" stroke-width="0.9" stroke-linecap="butt"/>
<rect x="453" y="778.01344" width="20.30000000000001" height="21.986560000000054" fill="#000"/>
<line x1="399.5" y1="736.3" x2="432.5" y2="736.3" stroke="#000" stroke-width="1.5" stroke-linecap="butt"/>
<text x="416.0" y="737.5" font-size="7" text-anchor="middle" font-weight="bold" fill="#000">***</text>
<line x1="399.5" y1="730" x2="457.5" y2="730" stroke="#000" stroke-width="1.5" stroke-linecap="butt"/>
<text x="428.5" y="731.2" font-size="7" text-anchor="middle" font-weight="bold" fill="#000">**</text>
<line x1="425.5" y1="723.3" x2="463.8" y2="723.3" stroke="#000" stroke-width="1.5" stroke-linecap="butt"/>
<text x="444.65" y="724.5" font-size="7" text-anchor="middle" font-weight="bold" fill="#000">***</text>
<line x1="380" y1="728.1999999999999" x2="380" y2="800.6" stroke="#000" stroke-width="1.2" stroke-linecap="butt"/>
<line x1="379.4" y1="800" x2="485" y2="800" stroke="#000" stroke-width="1.2" stroke-linecap="butt"/>
<line x1="376.5" y1="800.0" x2="380" y2="800.0" stroke="#000" stroke-width="1.2" stroke-linecap="butt"/>
<text transform="translate(376.3 803.905) scale(0.8800 1)" font-size="11" text-anchor="end" fill="#000">0.0</text>
<line x1="376.5" y1="785.76" x2="380" y2="785.76" stroke="#000" stroke-width="1.2" stroke-linecap="butt"/>
<text transform="translate(376.3 789.665) scale(0.8800 1)" font-size="11" text-anchor="end" fill="#000">0.5</text>
<line x1="376.5" y1="771.52" x2="380" y2="771.52" stroke="#000" stroke-width="1.2" stroke-linecap="butt"/>
<text transform="translate(376.3 775.425) scale(0.8800 1)" font-size="11" text-anchor="end" fill="#000">1.0</text>
<line x1="376.5" y1="757.28" x2="380" y2="757.28" stroke="#000" stroke-width="1.2" stroke-linecap="butt"/>
<text transform="translate(376.3 761.185) scale(0.8800 1)" font-size="11" text-anchor="end" fill="#000">1.5</text>
<line x1="376.5" y1="743.04" x2="380" y2="743.04" stroke="#000" stroke-width="1.2" stroke-linecap="butt"/>
<text transform="translate(376.3 746.9449999999999) scale(0.8800 1)" font-size="11" text-anchor="end" fill="#000">2.0</text>
<line x1="376.5" y1="728.8" x2="380" y2="728.8" stroke="#000" stroke-width="1.2" stroke-linecap="butt"/>
<text transform="translate(376.3 732.7049999999999) scale(0.8800 1)" font-size="11" text-anchor="end" fill="#000">2.5</text>
<line x1="401.05" y1="800" x2="401.05" y2="803" stroke="#000" stroke-width="1.1" stroke-linecap="butt"/>
<text transform="translate(401.05 813) scale(0.8800 1)" font-size="10.4" text-anchor="middle" fill="#000">Mock</text>
<line x1="432.0" y1="800" x2="432.0" y2="803" stroke="#000" stroke-width="1.1" stroke-linecap="butt"/>
<text transform="translate(432.0 813) scale(0.8800 1)" font-size="10.4" text-anchor="middle" fill="#000">0</text>
<line x1="463.15" y1="800" x2="463.15" y2="803" stroke="#000" stroke-width="1.1" stroke-linecap="butt"/>
<text transform="translate(463.15 813) scale(0.8800 1)" font-size="10.4" text-anchor="middle" fill="#000">55</text>
<text x="476.8" y="810.8" font-size="9.6" fill="#000">(µM)</text>
<line x1="422.5" y1="816.3" x2="475.8" y2="816.3" stroke="#000" stroke-width="1.5" stroke-linecap="butt"/>
<text x="421.3" y="823.8" font-size="9.3" fill="#000">Ac-YVAD-cmk</text>
<line x1="418.8" y1="826.8" x2="487" y2="826.8" stroke="#000" stroke-width="1.5" stroke-linecap="butt"/>
<text x="454.4" y="837.5" font-size="9.2" text-anchor="middle" fill="#000">DENV-1 NS1</text>
<text x="356.8" y="765" font-size="9.5" text-anchor="middle" transform="rotate(-90 356.8 765)" fill="#000">Fold change</text>
<text x="590.3" y="715" font-size="14" text-anchor="middle" fill="#000">IL1b</text>
<line x1="555.9" y1="774.6985" x2="555.9" y2="776.1999999999999" stroke="#222" stroke-width="0.9" stroke-linecap="butt"/>
<line x1="550.9" y1="774.6985" x2="560.9" y2="774.6985" stroke="#222" stroke-width="0.9" stroke-linecap="butt"/>
<rect x="544.8" y="776.1999999999999" width="22.200000000000045" height="23.100000000000023" fill="#000"/>
<line x1="589.3" y1="737.5075" x2="589.3" y2="739.471" stroke="#222" stroke-width="0.9" stroke-linecap="butt"/>
<line x1="584.3" y1="737.5075" x2="594.3" y2="737.5075" stroke="#222" stroke-width="0.9" stroke-linecap="butt"/>
<rect x="577.8" y="739.471" width="23.0" height="59.82899999999995" fill="#000"/>
<line x1="622.5" y1="754.486" x2="622.5" y2="755.7565" stroke="#222" stroke-width="0.9" stroke-linecap="butt"/>
<line x1="617.5" y1="754.486" x2="627.5" y2="754.486" stroke="#222" stroke-width="0.9" stroke-linecap="butt"/>
<rect x="611" y="755.7565" width="23" height="43.543499999999995" fill="#000"/>
<line x1="554.8" y1="727" x2="618.5" y2="727" stroke="#000" stroke-width="1.5" stroke-linecap="butt"/>
<text x="586.65" y="728.2" font-size="7" text-anchor="middle" font-weight="bold" fill="#000">***</text>
<line x1="556" y1="732" x2="588.5" y2="732" stroke="#000" stroke-width="1.5" stroke-linecap="butt"/>
<text x="572.25" y="733.2" font-size="7" text-anchor="middle" font-weight="bold" fill="#000">***</text>
<line x1="595.3" y1="735" x2="627.8" y2="735" stroke="#000" stroke-width="1.5" stroke-linecap="butt"/>
<text x="611.55" y="736.2" font-size="7" text-anchor="middle" font-weight="bold" fill="#000">***</text>
<line x1="533.5" y1="729.4" x2="533.5" y2="799.9" stroke="#000" stroke-width="1.2" stroke-linecap="butt"/>
<line x1="532.9" y1="799.3" x2="645.3" y2="799.3" stroke="#000" stroke-width="1.2" stroke-linecap="butt"/>
<line x1="530.0" y1="799.3" x2="533.5" y2="799.3" stroke="#000" stroke-width="1.2" stroke-linecap="butt"/>
<text transform="translate(529 803.418) scale(0.9300 1)" font-size="11.6" text-anchor="end" fill="#000">0</text>
<line x1="530.0" y1="776.1999999999999" x2="533.5" y2="776.1999999999999" stroke="#000" stroke-width="1.2" stroke-linecap="butt"/>
<text transform="translate(529 780.318) scale(0.9300 1)" font-size="11.6" text-anchor="end" fill="#000">1</text>
<line x1="530.0" y1="753.1" x2="533.5" y2="753.1" stroke="#000" stroke-width="1.2" stroke-linecap="butt"/>
<text transform="translate(529 757.2180000000001) scale(0.9300 1)" font-size="11.6" text-anchor="end" fill="#000">2</text>
<line x1="530.0" y1="730.0" x2="533.5" y2="730.0" stroke="#000" stroke-width="1.2" stroke-linecap="butt"/>
<text transform="translate(529 734.118) scale(0.9300 1)" font-size="11.6" text-anchor="end" fill="#000">3</text>
<line x1="555.9" y1="799.3" x2="555.9" y2="802.3" stroke="#000" stroke-width="1.1" stroke-linecap="butt"/>
<text transform="translate(555.9 810.8) scale(0.9300 1)" font-size="11" text-anchor="middle" fill="#000">Mock</text>
<line x1="589.3" y1="799.3" x2="589.3" y2="802.3" stroke="#000" stroke-width="1.1" stroke-linecap="butt"/>
<text transform="translate(589.3 810.8) scale(0.9300 1)" font-size="11" text-anchor="middle" fill="#000">0</text>
<line x1="622.5" y1="799.3" x2="622.5" y2="802.3" stroke="#000" stroke-width="1.1" stroke-linecap="butt"/>
<text transform="translate(622.5 810.8) scale(0.9300 1)" font-size="11" text-anchor="middle" fill="#000">55</text>
<text x="638.3" y="808.3" font-size="9.6" fill="#000">(µM)</text>
<line x1="579.8" y1="814.3" x2="637" y2="814.3" stroke="#000" stroke-width="1.5" stroke-linecap="butt"/>
<text x="578.5" y="822.5" font-size="9.5" fill="#000">Ac-YVAD-cmk</text>
<line x1="575.3" y1="825" x2="649" y2="825" stroke="#000" stroke-width="1.5" stroke-linecap="butt"/>
<text x="614" y="835" font-size="10" text-anchor="middle" fill="#000">DENV-2 NS1</text>
<text x="517.6" y="765" font-size="9.5" text-anchor="middle" transform="rotate(-90 517.6 765)" fill="#000">Fold change</text>
</svg>
</body></html>
